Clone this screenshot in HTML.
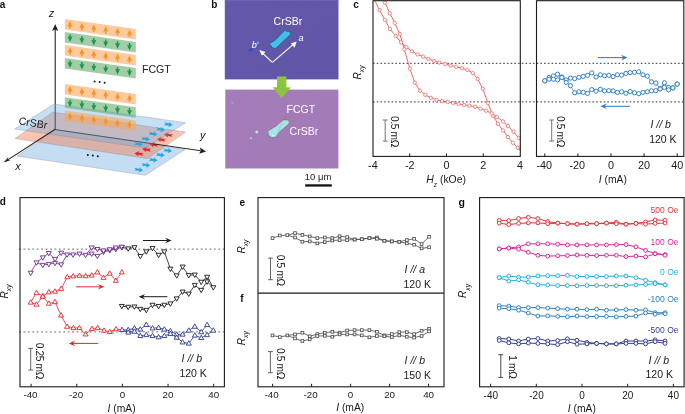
<!DOCTYPE html><html><head><meta charset="utf-8"><style>html,body{margin:0;padding:0;background:#fff;width:685px;height:414px;overflow:hidden;-webkit-font-smoothing:antialiased}svg{display:block;will-change:transform}text{font-family:"Liberation Sans",sans-serif}</style></head><body>
<svg width="685" height="414" viewBox="0 0 685 414">
<rect width="685" height="414" fill="#fff"/>
<text x="-0.3" y="8.2" font-size="10" text-anchor="start" fill="#111" font-weight="bold" font-style="normal" >a</text>
<text x="211.3" y="8.0" font-size="10" text-anchor="start" fill="#111" font-weight="bold" font-style="normal" >b</text>
<text x="353.2" y="7.6" font-size="10" text-anchor="start" fill="#111" font-weight="bold" font-style="normal" >c</text>
<text x="-0.3" y="205.3" font-size="10" text-anchor="start" fill="#111" font-weight="bold" font-style="normal" >d</text>
<text x="239.6" y="205.7" font-size="10" text-anchor="start" fill="#111" font-weight="bold" font-style="normal" >e</text>
<text x="240.3" y="302.2" font-size="10" text-anchor="start" fill="#111" font-weight="bold" font-style="normal" >f</text>
<text x="458.4" y="205.6" font-size="10.5" text-anchor="start" fill="#111" font-weight="bold" font-style="normal" >g</text>
<polygon points="56.60,129.70 185.00,149.50 145.40,175.30 17.00,156.00" fill="rgb(196,221,242)" stroke="rgba(130,130,140,0.55)" stroke-width="0.6"/>
<polygon points="172.05,151.15 167.39,153.23 168.35,151.56 163.13,151.28 164.93,150.09 163.56,148.41 168.63,149.68 168.21,147.80" fill="#27a7e2"/>
<polygon points="164.75,155.55 160.09,157.63 161.05,155.96 155.83,155.68 157.63,154.49 156.26,152.81 161.33,154.08 160.91,152.20" fill="#27a7e2"/>
<polygon points="157.55,160.55 152.89,162.63 153.85,160.96 148.63,160.68 150.43,159.49 149.06,157.81 154.13,159.08 153.71,157.20" fill="#27a7e2"/>
<polygon points="150.25,165.65 145.59,167.73 146.55,166.06 141.33,165.78 143.13,164.59 141.76,162.91 146.83,164.18 146.41,162.30" fill="#27a7e2"/>
<polygon points="143.05,170.45 138.39,172.53 139.35,170.86 134.13,170.58 135.93,169.39 134.56,167.71 139.63,168.98 139.21,167.10" fill="#27a7e2"/>
<polygon points="52.90,112.10 185.50,132.00 147.60,158.50 15.00,138.60" fill="rgba(243,118,71,0.43)" stroke="rgba(130,130,140,0.55)" stroke-width="0.6"/>
<polygon points="164.05,134.35 168.71,132.27 167.75,133.94 172.97,134.22 171.17,135.41 172.54,137.09 167.47,135.82 167.89,137.70" fill="#e8262a"/>
<polygon points="156.85,138.95 161.51,136.87 160.55,138.54 165.77,138.82 163.97,140.01 165.34,141.69 160.27,140.42 160.69,142.30" fill="#e8262a"/>
<polygon points="149.55,144.05 154.21,141.97 153.25,143.64 158.47,143.92 156.67,145.11 158.04,146.79 152.97,145.52 153.39,147.40" fill="#e8262a"/>
<polygon points="142.35,148.95 147.01,146.87 146.05,148.54 151.27,148.82 149.47,150.01 150.84,151.69 145.77,150.42 146.19,152.30" fill="#e8262a"/>
<polygon points="134.65,153.15 139.31,151.07 138.35,152.74 143.57,153.02 141.77,154.21 143.14,155.89 138.07,154.62 138.49,156.50" fill="#e8262a"/>
<line x1="55.2" y1="129.4" x2="55.2" y2="29" stroke="#222" stroke-width="1.1"/>
<path d="M55.2,24 L58.3,31 L55.2,29.6 L52.1,31 Z" fill="#222"/>
<line x1="55.2" y1="129.6" x2="200.5" y2="150.7" stroke="#2a2a2a" stroke-width="1.0"/>
<polygon points="54.00,104.00 185.50,122.70 146.00,148.00 14.50,129.00" fill="rgba(108,171,226,0.38)" stroke="rgba(130,130,140,0.55)" stroke-width="0.6"/>
<polygon points="172.75,125.05 168.09,127.13 169.05,125.46 163.83,125.18 165.63,123.99 164.26,122.31 169.33,123.58 168.91,121.70" fill="#27a7e2"/>
<polygon points="164.95,130.05 160.29,132.13 161.25,130.46 156.03,130.18 157.83,128.99 156.46,127.31 161.53,128.58 161.11,126.70" fill="#27a7e2"/>
<polygon points="157.55,134.55 152.89,136.63 153.85,134.96 148.63,134.68 150.43,133.49 149.06,131.81 154.13,133.08 153.71,131.20" fill="#27a7e2"/>
<polygon points="150.05,139.55 145.39,141.63 146.35,139.96 141.13,139.68 142.93,138.49 141.56,136.81 146.63,138.08 146.21,136.20" fill="#27a7e2"/>
<polygon points="143.05,144.65 138.39,146.73 139.35,145.06 134.13,144.78 135.93,143.59 134.56,141.91 139.63,143.18 139.21,141.30" fill="#27a7e2"/>
<circle cx="87.8" cy="155.0" r="1.0" fill="#111"/>
<circle cx="92.8" cy="155.6" r="1.0" fill="#111"/>
<circle cx="97.8" cy="156.3" r="1.0" fill="#111"/>
<g>
<polygon points="64.80,19.10 135.80,29.10 135.80,39.60 64.80,29.60" fill="rgba(250,166,92,0.6)"/>
<polygon points="64.80,32.10 135.80,42.10 135.80,52.60 64.80,42.60" fill="rgba(102,172,107,0.6)"/>
<polygon points="64.80,45.10 135.80,55.10 135.80,65.60 64.80,55.60" fill="rgba(250,166,92,0.6)"/>
<polygon points="64.80,58.00 135.80,68.00 135.80,78.50 64.80,68.50" fill="rgba(102,172,107,0.6)"/>
<polygon points="64.80,84.00 135.80,94.00 135.80,104.50 64.80,94.50" fill="rgba(250,166,92,0.6)"/>
<polygon points="64.80,97.20 135.80,107.20 135.80,117.70 64.80,107.70" fill="rgba(102,172,107,0.6)"/>
<polygon points="64.80,110.40 135.80,120.40 135.80,130.90 64.80,120.90" fill="rgba(250,166,92,0.6)"/>
</g>
<line x1="70.0" y1="25.88" x2="70.0" y2="28.58" stroke="#f7931e" stroke-width="1.5"/>
<path d="M70.0,21.08 L72.5,26.68 L70.0,26.08 L67.5,26.68 Z" fill="#f7931e"/>
<line x1="81.9" y1="27.56" x2="81.9" y2="30.26" stroke="#f7931e" stroke-width="1.5"/>
<path d="M81.9,22.76 L84.4,28.36 L81.9,27.76 L79.4,28.36 Z" fill="#f7931e"/>
<line x1="93.8" y1="29.23" x2="93.8" y2="31.93" stroke="#f7931e" stroke-width="1.5"/>
<path d="M93.8,24.43 L96.3,30.03 L93.8,29.43 L91.3,30.03 Z" fill="#f7931e"/>
<line x1="105.7" y1="30.91" x2="105.7" y2="33.61" stroke="#f7931e" stroke-width="1.5"/>
<path d="M105.7,26.11 L108.2,31.71 L105.7,31.11 L103.2,31.71 Z" fill="#f7931e"/>
<line x1="117.5" y1="32.57" x2="117.5" y2="35.27" stroke="#f7931e" stroke-width="1.5"/>
<path d="M117.5,27.77 L120.0,33.37 L117.5,32.77 L115.0,33.37 Z" fill="#f7931e"/>
<line x1="129.5" y1="34.26" x2="129.5" y2="36.96" stroke="#f7931e" stroke-width="1.5"/>
<path d="M129.5,29.46 L132.0,35.06 L129.5,34.46 L127.0,35.06 Z" fill="#f7931e"/>
<line x1="70.0" y1="37.23" x2="70.0" y2="34.53" stroke="#17984a" stroke-width="1.5"/>
<path d="M70.0,42.03 L72.5,36.43 L70.0,37.03 L67.5,36.43 Z" fill="#17984a"/>
<line x1="81.9" y1="38.91" x2="81.9" y2="36.21" stroke="#17984a" stroke-width="1.5"/>
<path d="M81.9,43.71 L84.4,38.11 L81.9,38.71 L79.4,38.11 Z" fill="#17984a"/>
<line x1="93.8" y1="40.58" x2="93.8" y2="37.88" stroke="#17984a" stroke-width="1.5"/>
<path d="M93.8,45.38 L96.3,39.78 L93.8,40.38 L91.3,39.78 Z" fill="#17984a"/>
<line x1="105.7" y1="42.26" x2="105.7" y2="39.56" stroke="#17984a" stroke-width="1.5"/>
<path d="M105.7,47.06 L108.2,41.46 L105.7,42.06 L103.2,41.46 Z" fill="#17984a"/>
<line x1="117.5" y1="43.92" x2="117.5" y2="41.22" stroke="#17984a" stroke-width="1.5"/>
<path d="M117.5,48.72 L120.0,43.12 L117.5,43.72 L115.0,43.12 Z" fill="#17984a"/>
<line x1="129.5" y1="45.61" x2="129.5" y2="42.91" stroke="#17984a" stroke-width="1.5"/>
<path d="M129.5,50.41 L132.0,44.81 L129.5,45.41 L127.0,44.81 Z" fill="#17984a"/>
<line x1="70.0" y1="51.88" x2="70.0" y2="54.58" stroke="#f7931e" stroke-width="1.5"/>
<path d="M70.0,47.08 L72.5,52.68 L70.0,52.08 L67.5,52.68 Z" fill="#f7931e"/>
<line x1="81.9" y1="53.56" x2="81.9" y2="56.26" stroke="#f7931e" stroke-width="1.5"/>
<path d="M81.9,48.76 L84.4,54.36 L81.9,53.76 L79.4,54.36 Z" fill="#f7931e"/>
<line x1="93.8" y1="55.23" x2="93.8" y2="57.93" stroke="#f7931e" stroke-width="1.5"/>
<path d="M93.8,50.43 L96.3,56.03 L93.8,55.43 L91.3,56.03 Z" fill="#f7931e"/>
<line x1="105.7" y1="56.91" x2="105.7" y2="59.61" stroke="#f7931e" stroke-width="1.5"/>
<path d="M105.7,52.11 L108.2,57.71 L105.7,57.11 L103.2,57.71 Z" fill="#f7931e"/>
<line x1="117.5" y1="58.57" x2="117.5" y2="61.27" stroke="#f7931e" stroke-width="1.5"/>
<path d="M117.5,53.77 L120.0,59.37 L117.5,58.77 L115.0,59.37 Z" fill="#f7931e"/>
<line x1="129.5" y1="60.26" x2="129.5" y2="62.96" stroke="#f7931e" stroke-width="1.5"/>
<path d="M129.5,55.46 L132.0,61.06 L129.5,60.46 L127.0,61.06 Z" fill="#f7931e"/>
<line x1="70.0" y1="63.13" x2="70.0" y2="60.43" stroke="#17984a" stroke-width="1.5"/>
<path d="M70.0,67.93 L72.5,62.33 L70.0,62.93 L67.5,62.33 Z" fill="#17984a"/>
<line x1="81.9" y1="64.81" x2="81.9" y2="62.11" stroke="#17984a" stroke-width="1.5"/>
<path d="M81.9,69.61 L84.4,64.01 L81.9,64.61 L79.4,64.01 Z" fill="#17984a"/>
<line x1="93.8" y1="66.48" x2="93.8" y2="63.78" stroke="#17984a" stroke-width="1.5"/>
<path d="M93.8,71.28 L96.3,65.68 L93.8,66.28 L91.3,65.68 Z" fill="#17984a"/>
<line x1="105.7" y1="68.16" x2="105.7" y2="65.46" stroke="#17984a" stroke-width="1.5"/>
<path d="M105.7,72.96 L108.2,67.36 L105.7,67.96 L103.2,67.36 Z" fill="#17984a"/>
<line x1="117.5" y1="69.82" x2="117.5" y2="67.12" stroke="#17984a" stroke-width="1.5"/>
<path d="M117.5,74.62 L120.0,69.02 L117.5,69.62 L115.0,69.02 Z" fill="#17984a"/>
<line x1="129.5" y1="71.51" x2="129.5" y2="68.81" stroke="#17984a" stroke-width="1.5"/>
<path d="M129.5,76.31 L132.0,70.71 L129.5,71.31 L127.0,70.71 Z" fill="#17984a"/>
<line x1="70.0" y1="90.78" x2="70.0" y2="93.48" stroke="#f7931e" stroke-width="1.5"/>
<path d="M70.0,85.98 L72.5,91.58 L70.0,90.98 L67.5,91.58 Z" fill="#f7931e"/>
<line x1="81.9" y1="92.46" x2="81.9" y2="95.16" stroke="#f7931e" stroke-width="1.5"/>
<path d="M81.9,87.66 L84.4,93.26 L81.9,92.66 L79.4,93.26 Z" fill="#f7931e"/>
<line x1="93.8" y1="94.13" x2="93.8" y2="96.83" stroke="#f7931e" stroke-width="1.5"/>
<path d="M93.8,89.33 L96.3,94.93 L93.8,94.33 L91.3,94.93 Z" fill="#f7931e"/>
<line x1="105.7" y1="95.81" x2="105.7" y2="98.51" stroke="#f7931e" stroke-width="1.5"/>
<path d="M105.7,91.01 L108.2,96.61 L105.7,96.01 L103.2,96.61 Z" fill="#f7931e"/>
<line x1="117.5" y1="97.47" x2="117.5" y2="100.17" stroke="#f7931e" stroke-width="1.5"/>
<path d="M117.5,92.67 L120.0,98.27 L117.5,97.67 L115.0,98.27 Z" fill="#f7931e"/>
<line x1="129.5" y1="99.16" x2="129.5" y2="101.86" stroke="#f7931e" stroke-width="1.5"/>
<path d="M129.5,94.36 L132.0,99.96 L129.5,99.36 L127.0,99.96 Z" fill="#f7931e"/>
<line x1="70.0" y1="102.33" x2="70.0" y2="99.63" stroke="#17984a" stroke-width="1.5"/>
<path d="M70.0,107.13 L72.5,101.53 L70.0,102.13 L67.5,101.53 Z" fill="#17984a"/>
<line x1="81.9" y1="104.01" x2="81.9" y2="101.31" stroke="#17984a" stroke-width="1.5"/>
<path d="M81.9,108.81 L84.4,103.21 L81.9,103.81 L79.4,103.21 Z" fill="#17984a"/>
<line x1="93.8" y1="105.68" x2="93.8" y2="102.98" stroke="#17984a" stroke-width="1.5"/>
<path d="M93.8,110.48 L96.3,104.88 L93.8,105.48 L91.3,104.88 Z" fill="#17984a"/>
<line x1="105.7" y1="107.36" x2="105.7" y2="104.66" stroke="#17984a" stroke-width="1.5"/>
<path d="M105.7,112.16 L108.2,106.56 L105.7,107.16 L103.2,106.56 Z" fill="#17984a"/>
<line x1="117.5" y1="109.02" x2="117.5" y2="106.32" stroke="#17984a" stroke-width="1.5"/>
<path d="M117.5,113.82 L120.0,108.22 L117.5,108.82 L115.0,108.22 Z" fill="#17984a"/>
<line x1="129.5" y1="110.71" x2="129.5" y2="108.01" stroke="#17984a" stroke-width="1.5"/>
<path d="M129.5,115.51 L132.0,109.91 L129.5,110.51 L127.0,109.91 Z" fill="#17984a"/>
<line x1="70.0" y1="117.18" x2="70.0" y2="119.88" stroke="#f7931e" stroke-width="1.5"/>
<path d="M70.0,112.38 L72.5,117.98 L70.0,117.38 L67.5,117.98 Z" fill="#f7931e"/>
<line x1="81.9" y1="118.86" x2="81.9" y2="121.56" stroke="#f7931e" stroke-width="1.5"/>
<path d="M81.9,114.06 L84.4,119.66 L81.9,119.06 L79.4,119.66 Z" fill="#f7931e"/>
<line x1="93.8" y1="120.53" x2="93.8" y2="123.23" stroke="#f7931e" stroke-width="1.5"/>
<path d="M93.8,115.73 L96.3,121.33 L93.8,120.73 L91.3,121.33 Z" fill="#f7931e"/>
<line x1="105.7" y1="122.21" x2="105.7" y2="124.91" stroke="#f7931e" stroke-width="1.5"/>
<path d="M105.7,117.41 L108.2,123.01 L105.7,122.41 L103.2,123.01 Z" fill="#f7931e"/>
<line x1="117.5" y1="123.87" x2="117.5" y2="126.57" stroke="#f7931e" stroke-width="1.5"/>
<path d="M117.5,119.07 L120.0,124.67 L117.5,124.07 L115.0,124.67 Z" fill="#f7931e"/>
<line x1="129.5" y1="125.56" x2="129.5" y2="128.26" stroke="#f7931e" stroke-width="1.5"/>
<path d="M129.5,120.76 L132.0,126.36 L129.5,125.76 L127.0,126.36 Z" fill="#f7931e"/>
<circle cx="94.6" cy="81.4" r="1.0" fill="#111"/>
<circle cx="99.6" cy="82.0" r="1.0" fill="#111"/>
<circle cx="104.6" cy="82.7" r="1.0" fill="#111"/>
<line x1="55.2" y1="129.2" x2="7.0" y2="160.4" stroke="#222" stroke-width="1.1"/>
<path d="M3.6,162.6 L8.4,156.9 L7.6,160.0 L10.6,160.3 Z" fill="#222"/>
<path d="M206.1,151.4 L199.2,153.7 L200.7,150.6 L199.9,147.6 Z" fill="#222"/>
<text x="48.8" y="16.9" font-size="11" text-anchor="start" fill="#222" font-weight="normal" font-style="italic" >z</text>
<text x="15.2" y="169.7" font-size="11" text-anchor="start" fill="#222" font-weight="normal" font-style="italic" >x</text>
<text x="200.0" y="138.6" font-size="11" text-anchor="start" fill="#222" font-weight="normal" font-style="italic" >y</text>
<text x="142.0" y="73.0" font-size="10.6" text-anchor="start" fill="#222" font-weight="normal" font-style="normal" >FCGT</text>
<text transform="translate(18.3,124.3) rotate(9)" font-size="10.6" fill="#222">CrSBr</text>
<defs><linearGradient id="gtop" x1="0" y1="0" x2="1" y2="1"><stop offset="0" stop-color="#6458aa"/><stop offset="1" stop-color="#6155a8"/></linearGradient><linearGradient id="gbot" x1="0" y1="0" x2="1" y2="1"><stop offset="0" stop-color="#a47cba"/><stop offset="1" stop-color="#a27ab8"/></linearGradient></defs>
<rect x="224.8" y="0" width="113.7" height="79.4" fill="url(#gtop)"/>
<rect x="224.8" y="0" width="113.7" height="0.8" fill="#7a70b8" opacity="0.6"/>
<rect x="225.3" y="89.6" width="113.1" height="78.9" fill="url(#gbot)"/>
<ellipse cx="232.5" cy="14" rx="1.5" ry="1" fill="#4a6ac8" opacity="0.7"/>
<ellipse cx="250.8" cy="49.8" rx="2.6" ry="1.2" fill="#2a50b8" opacity="0.85" transform="rotate(-20 250.8 49.8)"/>
<ellipse cx="257.8" cy="42.8" rx="1.6" ry="1.1" fill="#5ab4f0" opacity="0.9" transform="rotate(-40 257.8 42.8)"/>
<ellipse cx="235.5" cy="71.9" rx="1" ry="1" fill="#4a6ac8" opacity="0.6"/>
<path d="M269.4,43.6 L275.0,40.4 L284.6,30.5 L290.4,32.0 L290.4,34.6 L275.6,48.5 L272.4,47.8 Z" fill="#42bff0" stroke="#1f7068" stroke-width="0.9"/>
<g stroke="#fff" stroke-width="1.1" fill="none"><line x1="272.4" y1="62.4" x2="261.2" y2="51.8"/><line x1="272.4" y1="62.4" x2="294.8" y2="43.2"/></g>
<path d="M259.3,50.0 L265.6,52.0 L261.9,55.6 Z" fill="#fff"/>
<path d="M296.7,41.6 L294.6,47.8 L290.9,43.6 Z" fill="#fff"/>
<text x="251.8" y="47.6" font-size="9.2" text-anchor="start" fill="#fff" font-weight="normal" font-style="italic" >b</text>
<text x="298.4" y="41.0" font-size="9.2" text-anchor="start" fill="#fff" font-weight="normal" font-style="italic" >a</text>
<text x="273.6" y="24.6" font-size="10.5" text-anchor="start" fill="#fff" font-weight="normal" font-style="normal" >CrSBr</text>
<path d="M277,76.4 L286.4,76.4 L286.4,87.2 L291,87.2 L281.6,98.3 L272.7,87.2 L277,87.2 Z" fill="#8cc43e"/>
<path d="M267.6,131.2 L268.6,135.2 L271.8,137.6 L275.6,137.2 L279.6,131.8 L289.0,123.8 L289.6,121.9 L287.6,119.9 L283.8,119.8 L282.2,120.6 L276.8,125.6 L269.2,130.2 Z" fill="#a4e2ee"/>
<path d="M267.6,131.2 L268.6,135.2 L271.8,137.6 L275.6,137.2 L279.6,131.8 L289.0,123.8 L289.6,121.9 L287.6,119.9 L283.8,119.8 L282.2,120.6 L276.8,125.6 L269.2,130.2 Z" fill="none" stroke="#2f9a6a" stroke-width="0.8" stroke-dasharray="0.9 1.1"/>
<path d="M267.6,131.2 L268.6,135.2 L271.8,137.6 L275.6,137.2 L279.6,131.8 L289.0,123.8 L289.6,121.9 L287.6,119.9 L283.8,119.8 L282.2,120.6 L276.8,125.6 L269.2,130.2 Z" fill="none" stroke="#e2483a" stroke-width="0.8" stroke-dasharray="0.9 1.1" stroke-dashoffset="1"/>
<path d="M283.4,119.4 L280.6,126 L277.8,133.2" fill="none" stroke="#d8705a" stroke-width="0.6" stroke-dasharray="0.8 0.9"/>
<path d="M283.4,119.6 L285.4,116.2 L286.6,117" fill="none" stroke="#e2483a" stroke-width="0.9" stroke-dasharray="0.9 0.8"/>
<circle cx="273.2" cy="135.6" r="0.9" fill="#e8fafc"/>
<ellipse cx="256.8" cy="132" rx="1.5" ry="1.6" fill="#b8eaf8" opacity="0.95"/>
<ellipse cx="250.9" cy="138.3" rx="1.3" ry="1" fill="#90e0c0" opacity="0.9"/>
<ellipse cx="232.6" cy="103" rx="1.1" ry="1" fill="#80b8e8" opacity="0.8"/>
<ellipse cx="231.2" cy="101.4" rx="0.9" ry="0.8" fill="#90b0e0" opacity="0.5"/>
<text x="286.6" y="112.8" font-size="10.5" text-anchor="start" fill="#fff" font-weight="normal" font-style="normal" >FCGT</text>
<text x="289.6" y="134.6" font-size="10.5" text-anchor="start" fill="#fff" font-weight="normal" font-style="normal" >CrSBr</text>
<text x="304.8" y="180.2" font-size="9.5" text-anchor="start" fill="#1a1a1a" font-weight="normal" font-style="normal" >10 μm</text>
<rect x="305.2" y="184.3" width="26.6" height="2.3" fill="#111"/>
<defs><clipPath id="clipc1"><rect x="373" y="0.7" width="147.3" height="155.6"/></clipPath><clipPath id="clipc2"><rect x="536.5" y="0.7" width="147.3" height="155.6"/></clipPath></defs>
<line x1="373" y1="63.4" x2="684" y2="63.4" stroke="#5a5a5a" stroke-width="1.15" stroke-dasharray="1.6 2.12"/>
<line x1="373" y1="101.9" x2="684" y2="101.9" stroke="#5a5a5a" stroke-width="1.15" stroke-dasharray="1.6 2.12"/>
<g clip-path="url(#clipc1)">
<polyline points="372.50,-2.50 375.20,1.40 379.50,10.10 384.90,19.80 389.90,29.00 395.70,35.90 401.00,42.40 406.50,47.10 411.90,51.30 417.50,54.40 423.00,56.60 428.40,58.90 433.90,61.00 439.30,62.50 445.20,64.00 450.70,65.70 456.10,66.70 461.90,68.20 467.30,69.90 472.70,73.10 477.70,79.00 482.80,88.80 487.90,103.10 492.90,115.70 498.00,123.90 503.00,130.40 508.00,137.00 512.80,142.80 517.80,147.80 521.00,151.00" fill="none" stroke="#e8413f" stroke-width="0.8" stroke-linejoin="round" />
<polyline points="382.50,-3.00 384.90,2.60 389.90,13.30 394.70,22.90 399.80,34.00 404.30,49.30 409.90,68.70 414.80,82.60 420.00,90.70 425.40,94.90 430.80,97.80 436.40,100.00 442.00,101.10 447.70,102.00 453.30,103.00 458.50,103.90 464.20,105.00 469.30,105.70 475.20,106.70 480.60,108.70 486.20,110.70 491.60,113.30 496.80,117.00 503.00,121.40 508.00,126.10 513.50,131.60 518.60,138.00 521.00,141.00" fill="none" stroke="#e8413f" stroke-width="0.8" stroke-linejoin="round" />
<circle cx="379.50" cy="10.10" r="1.7" fill="#fff" stroke="#ef5a5a" stroke-width="0.7"/>
<circle cx="384.90" cy="19.80" r="1.7" fill="#fff" stroke="#ef5a5a" stroke-width="0.7"/>
<circle cx="389.90" cy="29.00" r="1.7" fill="#fff" stroke="#ef5a5a" stroke-width="0.7"/>
<circle cx="395.70" cy="35.90" r="1.7" fill="#fff" stroke="#ef5a5a" stroke-width="0.7"/>
<circle cx="401.00" cy="42.40" r="1.7" fill="#fff" stroke="#ef5a5a" stroke-width="0.7"/>
<circle cx="406.50" cy="47.10" r="1.7" fill="#fff" stroke="#ef5a5a" stroke-width="0.7"/>
<circle cx="411.90" cy="51.30" r="1.7" fill="#fff" stroke="#ef5a5a" stroke-width="0.7"/>
<circle cx="417.50" cy="54.40" r="1.7" fill="#fff" stroke="#ef5a5a" stroke-width="0.7"/>
<circle cx="423.00" cy="56.60" r="1.7" fill="#fff" stroke="#ef5a5a" stroke-width="0.7"/>
<circle cx="428.40" cy="58.90" r="1.7" fill="#fff" stroke="#ef5a5a" stroke-width="0.7"/>
<circle cx="433.90" cy="61.00" r="1.7" fill="#fff" stroke="#ef5a5a" stroke-width="0.7"/>
<circle cx="439.30" cy="62.50" r="1.7" fill="#fff" stroke="#ef5a5a" stroke-width="0.7"/>
<circle cx="445.20" cy="64.00" r="1.7" fill="#fff" stroke="#ef5a5a" stroke-width="0.7"/>
<circle cx="450.70" cy="65.70" r="1.7" fill="#fff" stroke="#ef5a5a" stroke-width="0.7"/>
<circle cx="456.10" cy="66.70" r="1.7" fill="#fff" stroke="#ef5a5a" stroke-width="0.7"/>
<circle cx="461.90" cy="68.20" r="1.7" fill="#fff" stroke="#ef5a5a" stroke-width="0.7"/>
<circle cx="467.30" cy="69.90" r="1.7" fill="#fff" stroke="#ef5a5a" stroke-width="0.7"/>
<circle cx="472.70" cy="73.10" r="1.7" fill="#fff" stroke="#ef5a5a" stroke-width="0.7"/>
<circle cx="477.70" cy="79.00" r="1.7" fill="#fff" stroke="#ef5a5a" stroke-width="0.7"/>
<circle cx="482.80" cy="88.80" r="1.7" fill="#fff" stroke="#ef5a5a" stroke-width="0.7"/>
<circle cx="487.90" cy="103.10" r="1.7" fill="#fff" stroke="#ef5a5a" stroke-width="0.7"/>
<circle cx="492.90" cy="115.70" r="1.7" fill="#fff" stroke="#ef5a5a" stroke-width="0.7"/>
<circle cx="498.00" cy="123.90" r="1.7" fill="#fff" stroke="#ef5a5a" stroke-width="0.7"/>
<circle cx="503.00" cy="130.40" r="1.7" fill="#fff" stroke="#ef5a5a" stroke-width="0.7"/>
<circle cx="508.00" cy="137.00" r="1.7" fill="#fff" stroke="#ef5a5a" stroke-width="0.7"/>
<circle cx="512.80" cy="142.80" r="1.7" fill="#fff" stroke="#ef5a5a" stroke-width="0.7"/>
<circle cx="517.80" cy="147.80" r="1.7" fill="#fff" stroke="#ef5a5a" stroke-width="0.7"/>
<circle cx="384.90" cy="2.60" r="1.7" fill="#fff" stroke="#ef5a5a" stroke-width="0.7"/>
<circle cx="389.90" cy="13.30" r="1.7" fill="#fff" stroke="#ef5a5a" stroke-width="0.7"/>
<circle cx="394.70" cy="22.90" r="1.7" fill="#fff" stroke="#ef5a5a" stroke-width="0.7"/>
<circle cx="399.80" cy="34.00" r="1.7" fill="#fff" stroke="#ef5a5a" stroke-width="0.7"/>
<circle cx="404.30" cy="49.30" r="1.7" fill="#fff" stroke="#ef5a5a" stroke-width="0.7"/>
<circle cx="409.90" cy="68.70" r="1.7" fill="#fff" stroke="#ef5a5a" stroke-width="0.7"/>
<circle cx="414.80" cy="82.60" r="1.7" fill="#fff" stroke="#ef5a5a" stroke-width="0.7"/>
<circle cx="420.00" cy="90.70" r="1.7" fill="#fff" stroke="#ef5a5a" stroke-width="0.7"/>
<circle cx="425.40" cy="94.90" r="1.7" fill="#fff" stroke="#ef5a5a" stroke-width="0.7"/>
<circle cx="430.80" cy="97.80" r="1.7" fill="#fff" stroke="#ef5a5a" stroke-width="0.7"/>
<circle cx="436.40" cy="100.00" r="1.7" fill="#fff" stroke="#ef5a5a" stroke-width="0.7"/>
<circle cx="442.00" cy="101.10" r="1.7" fill="#fff" stroke="#ef5a5a" stroke-width="0.7"/>
<circle cx="447.70" cy="102.00" r="1.7" fill="#fff" stroke="#ef5a5a" stroke-width="0.7"/>
<circle cx="453.30" cy="103.00" r="1.7" fill="#fff" stroke="#ef5a5a" stroke-width="0.7"/>
<circle cx="458.50" cy="103.90" r="1.7" fill="#fff" stroke="#ef5a5a" stroke-width="0.7"/>
<circle cx="464.20" cy="105.00" r="1.7" fill="#fff" stroke="#ef5a5a" stroke-width="0.7"/>
<circle cx="469.30" cy="105.70" r="1.7" fill="#fff" stroke="#ef5a5a" stroke-width="0.7"/>
<circle cx="475.20" cy="106.70" r="1.7" fill="#fff" stroke="#ef5a5a" stroke-width="0.7"/>
<circle cx="480.60" cy="108.70" r="1.7" fill="#fff" stroke="#ef5a5a" stroke-width="0.7"/>
<circle cx="486.20" cy="110.70" r="1.7" fill="#fff" stroke="#ef5a5a" stroke-width="0.7"/>
<circle cx="491.60" cy="113.30" r="1.7" fill="#fff" stroke="#ef5a5a" stroke-width="0.7"/>
<circle cx="496.80" cy="117.00" r="1.7" fill="#fff" stroke="#ef5a5a" stroke-width="0.7"/>
<circle cx="503.00" cy="121.40" r="1.7" fill="#fff" stroke="#ef5a5a" stroke-width="0.7"/>
<circle cx="508.00" cy="126.10" r="1.7" fill="#fff" stroke="#ef5a5a" stroke-width="0.7"/>
<circle cx="513.50" cy="131.60" r="1.7" fill="#fff" stroke="#ef5a5a" stroke-width="0.7"/>
<circle cx="518.60" cy="138.00" r="1.7" fill="#fff" stroke="#ef5a5a" stroke-width="0.7"/>
</g>
<rect x="373" y="0.7" width="147.29999999999995" height="155.70000000000002" fill="none" stroke="#1a1a1a" stroke-width="1.1"/>
<line x1="409.70" y1="156.4" x2="409.70" y2="153.4" stroke="#1a1a1a" stroke-width="1"/>
<line x1="446.50" y1="156.4" x2="446.50" y2="153.4" stroke="#1a1a1a" stroke-width="1"/>
<line x1="483.30" y1="156.4" x2="483.30" y2="153.4" stroke="#1a1a1a" stroke-width="1"/>
<text x="372.90" y="168.8" font-size="10.8" text-anchor="middle" fill="#1a1a1a" font-weight="normal" font-style="normal" >-4</text>
<text x="409.70" y="168.8" font-size="10.8" text-anchor="middle" fill="#1a1a1a" font-weight="normal" font-style="normal" >-2</text>
<text x="446.50" y="168.8" font-size="10.8" text-anchor="middle" fill="#1a1a1a" font-weight="normal" font-style="normal" >0</text>
<text x="483.30" y="168.8" font-size="10.8" text-anchor="middle" fill="#1a1a1a" font-weight="normal" font-style="normal" >2</text>
<text x="520.10" y="168.8" font-size="10.8" text-anchor="middle" fill="#1a1a1a" font-weight="normal" font-style="normal" >4</text>
<text x="426.3" y="183.3" font-size="10.4" fill="#1a1a1a"><tspan font-style="italic">H</tspan><tspan font-size="6.5" font-style="italic" dy="3.6">z</tspan><tspan dy="-3.6"> (kOe)</tspan></text>
<text transform="translate(360.6,79.4) rotate(-90)" font-size="10" font-style="italic" fill="#1a1a1a">R<tspan font-size="6.8" dy="3.3">xy</tspan></text>
<line x1="385.2" y1="120.0" x2="385.2" y2="141.1" stroke="#666" stroke-width="0.9"/>
<line x1="382.8" y1="120.0" x2="387.59999999999997" y2="120.0" stroke="#666" stroke-width="0.9"/>
<line x1="382.8" y1="141.1" x2="387.59999999999997" y2="141.1" stroke="#666" stroke-width="0.9"/>
<text transform="translate(390.6,116.0) rotate(90)" font-size="10.2" letter-spacing="-0.35" fill="#1a1a1a">0.5 mΩ</text>
<polyline points="544.80,80.80 549.07,77.50 553.34,75.90 557.61,74.20 561.88,77.00 566.15,80.00 570.42,78.10 574.69,78.60 578.96,77.30 583.23,76.40 587.50,75.30 591.77,72.90 596.04,77.00 600.31,74.80 604.58,75.70 608.85,75.30 613.12,76.60 617.39,74.80 621.66,75.10 625.93,73.40 630.20,72.60 634.47,72.30 638.74,71.80 643.01,74.80 647.28,76.10 651.55,81.90 655.82,83.00 660.09,88.70 664.36,82.80 668.63,87.40 672.90,87.90 677.17,84.10" fill="none" stroke="#2b7bc0" stroke-width="0.7" stroke-linejoin="round" />
<polyline points="544.80,80.80 549.07,79.20 553.34,79.20 557.61,79.90 561.88,77.50 566.15,82.40 570.42,85.70 574.69,92.80 578.96,91.80 583.23,92.30 587.50,93.40 591.77,89.60 596.04,91.20 600.31,89.30 604.58,90.90 608.85,90.70 613.12,90.90 617.39,92.40 621.66,91.80 625.93,93.20 630.20,91.50 634.47,92.80 638.74,93.70 643.01,92.30 647.28,91.80 651.55,90.90 655.82,90.70 660.09,89.00 664.36,87.40 668.63,89.80 672.90,87.90 677.17,84.10" fill="none" stroke="#2b7bc0" stroke-width="0.7" stroke-linejoin="round" />
<circle cx="544.80" cy="80.80" r="2.1" fill="#fff" stroke="#2b7bc0" stroke-width="0.95"/>
<circle cx="549.07" cy="77.50" r="2.1" fill="#fff" stroke="#2b7bc0" stroke-width="0.95"/>
<circle cx="553.34" cy="75.90" r="2.1" fill="#fff" stroke="#2b7bc0" stroke-width="0.95"/>
<circle cx="557.61" cy="74.20" r="2.1" fill="#fff" stroke="#2b7bc0" stroke-width="0.95"/>
<circle cx="561.88" cy="77.00" r="2.1" fill="#fff" stroke="#2b7bc0" stroke-width="0.95"/>
<circle cx="566.15" cy="80.00" r="2.1" fill="#fff" stroke="#2b7bc0" stroke-width="0.95"/>
<circle cx="570.42" cy="78.10" r="2.1" fill="#fff" stroke="#2b7bc0" stroke-width="0.95"/>
<circle cx="574.69" cy="78.60" r="2.1" fill="#fff" stroke="#2b7bc0" stroke-width="0.95"/>
<circle cx="578.96" cy="77.30" r="2.1" fill="#fff" stroke="#2b7bc0" stroke-width="0.95"/>
<circle cx="583.23" cy="76.40" r="2.1" fill="#fff" stroke="#2b7bc0" stroke-width="0.95"/>
<circle cx="587.50" cy="75.30" r="2.1" fill="#fff" stroke="#2b7bc0" stroke-width="0.95"/>
<circle cx="591.77" cy="72.90" r="2.1" fill="#fff" stroke="#2b7bc0" stroke-width="0.95"/>
<circle cx="596.04" cy="77.00" r="2.1" fill="#fff" stroke="#2b7bc0" stroke-width="0.95"/>
<circle cx="600.31" cy="74.80" r="2.1" fill="#fff" stroke="#2b7bc0" stroke-width="0.95"/>
<circle cx="604.58" cy="75.70" r="2.1" fill="#fff" stroke="#2b7bc0" stroke-width="0.95"/>
<circle cx="608.85" cy="75.30" r="2.1" fill="#fff" stroke="#2b7bc0" stroke-width="0.95"/>
<circle cx="613.12" cy="76.60" r="2.1" fill="#fff" stroke="#2b7bc0" stroke-width="0.95"/>
<circle cx="617.39" cy="74.80" r="2.1" fill="#fff" stroke="#2b7bc0" stroke-width="0.95"/>
<circle cx="621.66" cy="75.10" r="2.1" fill="#fff" stroke="#2b7bc0" stroke-width="0.95"/>
<circle cx="625.93" cy="73.40" r="2.1" fill="#fff" stroke="#2b7bc0" stroke-width="0.95"/>
<circle cx="630.20" cy="72.60" r="2.1" fill="#fff" stroke="#2b7bc0" stroke-width="0.95"/>
<circle cx="634.47" cy="72.30" r="2.1" fill="#fff" stroke="#2b7bc0" stroke-width="0.95"/>
<circle cx="638.74" cy="71.80" r="2.1" fill="#fff" stroke="#2b7bc0" stroke-width="0.95"/>
<circle cx="643.01" cy="74.80" r="2.1" fill="#fff" stroke="#2b7bc0" stroke-width="0.95"/>
<circle cx="647.28" cy="76.10" r="2.1" fill="#fff" stroke="#2b7bc0" stroke-width="0.95"/>
<circle cx="651.55" cy="81.90" r="2.1" fill="#fff" stroke="#2b7bc0" stroke-width="0.95"/>
<circle cx="655.82" cy="83.00" r="2.1" fill="#fff" stroke="#2b7bc0" stroke-width="0.95"/>
<circle cx="660.09" cy="88.70" r="2.1" fill="#fff" stroke="#2b7bc0" stroke-width="0.95"/>
<circle cx="664.36" cy="82.80" r="2.1" fill="#fff" stroke="#2b7bc0" stroke-width="0.95"/>
<circle cx="668.63" cy="87.40" r="2.1" fill="#fff" stroke="#2b7bc0" stroke-width="0.95"/>
<circle cx="672.90" cy="87.90" r="2.1" fill="#fff" stroke="#2b7bc0" stroke-width="0.95"/>
<circle cx="677.17" cy="84.10" r="2.1" fill="#fff" stroke="#2b7bc0" stroke-width="0.95"/>
<circle cx="544.80" cy="80.80" r="2.1" fill="#fff" stroke="#2b7bc0" stroke-width="0.95"/>
<circle cx="549.07" cy="79.20" r="2.1" fill="#fff" stroke="#2b7bc0" stroke-width="0.95"/>
<circle cx="553.34" cy="79.20" r="2.1" fill="#fff" stroke="#2b7bc0" stroke-width="0.95"/>
<circle cx="557.61" cy="79.90" r="2.1" fill="#fff" stroke="#2b7bc0" stroke-width="0.95"/>
<circle cx="561.88" cy="77.50" r="2.1" fill="#fff" stroke="#2b7bc0" stroke-width="0.95"/>
<circle cx="566.15" cy="82.40" r="2.1" fill="#fff" stroke="#2b7bc0" stroke-width="0.95"/>
<circle cx="570.42" cy="85.70" r="2.1" fill="#fff" stroke="#2b7bc0" stroke-width="0.95"/>
<circle cx="574.69" cy="92.80" r="2.1" fill="#fff" stroke="#2b7bc0" stroke-width="0.95"/>
<circle cx="578.96" cy="91.80" r="2.1" fill="#fff" stroke="#2b7bc0" stroke-width="0.95"/>
<circle cx="583.23" cy="92.30" r="2.1" fill="#fff" stroke="#2b7bc0" stroke-width="0.95"/>
<circle cx="587.50" cy="93.40" r="2.1" fill="#fff" stroke="#2b7bc0" stroke-width="0.95"/>
<circle cx="591.77" cy="89.60" r="2.1" fill="#fff" stroke="#2b7bc0" stroke-width="0.95"/>
<circle cx="596.04" cy="91.20" r="2.1" fill="#fff" stroke="#2b7bc0" stroke-width="0.95"/>
<circle cx="600.31" cy="89.30" r="2.1" fill="#fff" stroke="#2b7bc0" stroke-width="0.95"/>
<circle cx="604.58" cy="90.90" r="2.1" fill="#fff" stroke="#2b7bc0" stroke-width="0.95"/>
<circle cx="608.85" cy="90.70" r="2.1" fill="#fff" stroke="#2b7bc0" stroke-width="0.95"/>
<circle cx="613.12" cy="90.90" r="2.1" fill="#fff" stroke="#2b7bc0" stroke-width="0.95"/>
<circle cx="617.39" cy="92.40" r="2.1" fill="#fff" stroke="#2b7bc0" stroke-width="0.95"/>
<circle cx="621.66" cy="91.80" r="2.1" fill="#fff" stroke="#2b7bc0" stroke-width="0.95"/>
<circle cx="625.93" cy="93.20" r="2.1" fill="#fff" stroke="#2b7bc0" stroke-width="0.95"/>
<circle cx="630.20" cy="91.50" r="2.1" fill="#fff" stroke="#2b7bc0" stroke-width="0.95"/>
<circle cx="634.47" cy="92.80" r="2.1" fill="#fff" stroke="#2b7bc0" stroke-width="0.95"/>
<circle cx="638.74" cy="93.70" r="2.1" fill="#fff" stroke="#2b7bc0" stroke-width="0.95"/>
<circle cx="643.01" cy="92.30" r="2.1" fill="#fff" stroke="#2b7bc0" stroke-width="0.95"/>
<circle cx="647.28" cy="91.80" r="2.1" fill="#fff" stroke="#2b7bc0" stroke-width="0.95"/>
<circle cx="651.55" cy="90.90" r="2.1" fill="#fff" stroke="#2b7bc0" stroke-width="0.95"/>
<circle cx="655.82" cy="90.70" r="2.1" fill="#fff" stroke="#2b7bc0" stroke-width="0.95"/>
<circle cx="660.09" cy="89.00" r="2.1" fill="#fff" stroke="#2b7bc0" stroke-width="0.95"/>
<circle cx="664.36" cy="87.40" r="2.1" fill="#fff" stroke="#2b7bc0" stroke-width="0.95"/>
<circle cx="668.63" cy="89.80" r="2.1" fill="#fff" stroke="#2b7bc0" stroke-width="0.95"/>
<circle cx="672.90" cy="87.90" r="2.1" fill="#fff" stroke="#2b7bc0" stroke-width="0.95"/>
<circle cx="677.17" cy="84.10" r="2.1" fill="#fff" stroke="#2b7bc0" stroke-width="0.95"/>
<rect x="536.5" y="0.7" width="147.29999999999995" height="155.70000000000002" fill="none" stroke="#1a1a1a" stroke-width="1.1"/>
<line x1="544.80" y1="156.4" x2="544.80" y2="153.4" stroke="#1a1a1a" stroke-width="1"/>
<line x1="577.90" y1="156.4" x2="577.90" y2="153.4" stroke="#1a1a1a" stroke-width="1"/>
<line x1="611.00" y1="156.4" x2="611.00" y2="153.4" stroke="#1a1a1a" stroke-width="1"/>
<line x1="644.10" y1="156.4" x2="644.10" y2="153.4" stroke="#1a1a1a" stroke-width="1"/>
<line x1="677.20" y1="156.4" x2="677.20" y2="153.4" stroke="#1a1a1a" stroke-width="1"/>
<text x="544.20" y="168.8" font-size="10.8" text-anchor="middle" fill="#1a1a1a" font-weight="normal" font-style="normal" >-40</text>
<text x="577.30" y="168.8" font-size="10.8" text-anchor="middle" fill="#1a1a1a" font-weight="normal" font-style="normal" >-20</text>
<text x="611.00" y="168.8" font-size="10.8" text-anchor="middle" fill="#1a1a1a" font-weight="normal" font-style="normal" >0</text>
<text x="644.10" y="168.8" font-size="10.8" text-anchor="middle" fill="#1a1a1a" font-weight="normal" font-style="normal" >20</text>
<text x="677.20" y="168.8" font-size="10.8" text-anchor="middle" fill="#1a1a1a" font-weight="normal" font-style="normal" >40</text>
<text x="598.8" y="183.4" font-size="10.3" fill="#1a1a1a"><tspan font-style="italic">I</tspan> (mA)</text>
<line x1="551.7" y1="120.0" x2="551.7" y2="141.1" stroke="#666" stroke-width="0.9"/>
<line x1="549.3000000000001" y1="120.0" x2="554.1" y2="120.0" stroke="#666" stroke-width="0.9"/>
<line x1="549.3000000000001" y1="141.1" x2="554.1" y2="141.1" stroke="#666" stroke-width="0.9"/>
<text transform="translate(557.3,116.0) rotate(90)" font-size="10.2" letter-spacing="-0.35" fill="#1a1a1a">0.5 mΩ</text>
<line x1="597.9" y1="57.6" x2="623.56" y2="57.6" stroke="#2b7bc0" stroke-width="1.0"/>
<path d="M627.4,57.6 L621.0,54.800000000000004 L623.24,57.6 L621.0,60.4 Z" fill="#2b7bc0"/>
<line x1="630.0" y1="106.3" x2="604.24" y2="106.3" stroke="#2b7bc0" stroke-width="1.0"/>
<path d="M600.4,106.3 L606.8,103.5 L604.56,106.3 L606.8,109.1 Z" fill="#2b7bc0"/>
<text x="650.5" y="127.8" font-size="10.5" font-style="italic" fill="#1a1a1a">I // b</text>
<text x="649.2" y="143.3" font-size="10.5" text-anchor="start" fill="#1a1a1a" font-weight="normal" font-style="normal" >120 K</text>
<line x1="19.0" y1="249.2" x2="224.3" y2="249.2" stroke="#888" stroke-width="1.3" stroke-dasharray="1.8 2.63"/>
<line x1="19.0" y1="331.8" x2="224.3" y2="331.8" stroke="#888" stroke-width="1.3" stroke-dasharray="1.8 2.63"/>
<polyline points="30.70,273.00 36.50,262.60 42.80,257.60 48.80,253.20 55.00,259.10 61.20,252.90 67.10,254.70 73.10,254.70 79.50,253.80 85.60,255.00 91.70,253.80 97.40,256.10 103.50,252.00 109.70,250.40 115.80,249.20 121.90,247.40" fill="none" stroke="#70288c" stroke-width="0.8" stroke-linejoin="round" />
<polyline points="36.50,262.60 42.80,265.10 48.80,264.20 55.00,263.10 61.20,264.60 67.10,254.70" fill="none" stroke="#70288c" stroke-width="0.8" stroke-linejoin="round" />
<polyline points="85.60,255.00 91.70,247.70 97.40,249.20 103.50,250.70 109.70,249.50 115.80,247.70 121.90,246.90" fill="none" stroke="#70288c" stroke-width="0.8" stroke-linejoin="round" />
<polygon points="30.70,275.61 28.20,271.26 33.20,271.26" fill="#fff" stroke="#70288c" stroke-width="0.9" stroke-linejoin="miter"/>
<polygon points="36.50,265.21 34.00,260.86 39.00,260.86" fill="#fff" stroke="#70288c" stroke-width="0.9" stroke-linejoin="miter"/>
<polygon points="42.80,260.21 40.30,255.86 45.30,255.86" fill="#fff" stroke="#70288c" stroke-width="0.9" stroke-linejoin="miter"/>
<polygon points="48.80,255.81 46.30,251.46 51.30,251.46" fill="#fff" stroke="#70288c" stroke-width="0.9" stroke-linejoin="miter"/>
<polygon points="55.00,261.71 52.50,257.36 57.50,257.36" fill="#fff" stroke="#70288c" stroke-width="0.9" stroke-linejoin="miter"/>
<polygon points="61.20,255.51 58.70,251.16 63.70,251.16" fill="#fff" stroke="#70288c" stroke-width="0.9" stroke-linejoin="miter"/>
<polygon points="67.10,257.31 64.60,252.96 69.60,252.96" fill="#fff" stroke="#70288c" stroke-width="0.9" stroke-linejoin="miter"/>
<polygon points="73.10,257.31 70.60,252.96 75.60,252.96" fill="#fff" stroke="#70288c" stroke-width="0.9" stroke-linejoin="miter"/>
<polygon points="79.50,256.41 77.00,252.06 82.00,252.06" fill="#fff" stroke="#70288c" stroke-width="0.9" stroke-linejoin="miter"/>
<polygon points="85.60,257.61 83.10,253.26 88.10,253.26" fill="#fff" stroke="#70288c" stroke-width="0.9" stroke-linejoin="miter"/>
<polygon points="91.70,256.41 89.20,252.06 94.20,252.06" fill="#fff" stroke="#70288c" stroke-width="0.9" stroke-linejoin="miter"/>
<polygon points="97.40,258.71 94.90,254.36 99.90,254.36" fill="#fff" stroke="#70288c" stroke-width="0.9" stroke-linejoin="miter"/>
<polygon points="103.50,254.61 101.00,250.26 106.00,250.26" fill="#fff" stroke="#70288c" stroke-width="0.9" stroke-linejoin="miter"/>
<polygon points="109.70,253.01 107.20,248.66 112.20,248.66" fill="#fff" stroke="#70288c" stroke-width="0.9" stroke-linejoin="miter"/>
<polygon points="115.80,251.81 113.30,247.46 118.30,247.46" fill="#fff" stroke="#70288c" stroke-width="0.9" stroke-linejoin="miter"/>
<polygon points="121.90,250.01 119.40,245.66 124.40,245.66" fill="#fff" stroke="#70288c" stroke-width="0.9" stroke-linejoin="miter"/>
<polygon points="42.80,267.71 40.30,263.36 45.30,263.36" fill="#fff" stroke="#70288c" stroke-width="0.9" stroke-linejoin="miter"/>
<polygon points="48.80,266.81 46.30,262.46 51.30,262.46" fill="#fff" stroke="#70288c" stroke-width="0.9" stroke-linejoin="miter"/>
<polygon points="55.00,265.71 52.50,261.36 57.50,261.36" fill="#fff" stroke="#70288c" stroke-width="0.9" stroke-linejoin="miter"/>
<polygon points="61.20,267.21 58.70,262.86 63.70,262.86" fill="#fff" stroke="#70288c" stroke-width="0.9" stroke-linejoin="miter"/>
<polygon points="91.70,250.31 89.20,245.96 94.20,245.96" fill="#fff" stroke="#70288c" stroke-width="0.9" stroke-linejoin="miter"/>
<polygon points="97.40,251.81 94.90,247.46 99.90,247.46" fill="#fff" stroke="#70288c" stroke-width="0.9" stroke-linejoin="miter"/>
<polygon points="103.50,253.31 101.00,248.96 106.00,248.96" fill="#fff" stroke="#70288c" stroke-width="0.9" stroke-linejoin="miter"/>
<polygon points="109.70,252.11 107.20,247.76 112.20,247.76" fill="#fff" stroke="#70288c" stroke-width="0.9" stroke-linejoin="miter"/>
<polygon points="115.80,250.31 113.30,245.96 118.30,245.96" fill="#fff" stroke="#70288c" stroke-width="0.9" stroke-linejoin="miter"/>
<polygon points="121.90,249.51 119.40,245.16 124.40,245.16" fill="#fff" stroke="#70288c" stroke-width="0.9" stroke-linejoin="miter"/>
<polyline points="30.70,302.40 36.50,292.90 42.80,296.10 48.80,292.10 55.00,291.40 61.20,288.70 67.30,277.00 73.20,276.10 79.50,275.60 85.60,276.00 91.70,275.30 97.40,272.20 103.50,277.60 109.70,273.40 115.80,280.60 121.90,272.20" fill="none" stroke="#e8262a" stroke-width="0.8" stroke-linejoin="round" />
<polyline points="30.70,302.40 36.50,304.40 42.80,296.50 48.80,303.50 55.00,301.90 61.10,315.30 67.10,326.60 73.40,327.90 79.30,327.90 85.60,334.20 91.90,328.70 97.70,327.90 104.00,330.50 109.80,331.80 116.10,329.00 122.00,329.90" fill="none" stroke="#e8262a" stroke-width="0.8" stroke-linejoin="round" />
<polygon points="30.70,299.79 28.20,304.14 33.20,304.14" fill="#fff" stroke="#e8262a" stroke-width="0.9" stroke-linejoin="miter"/>
<polygon points="36.50,290.29 34.00,294.64 39.00,294.64" fill="#fff" stroke="#e8262a" stroke-width="0.9" stroke-linejoin="miter"/>
<polygon points="42.80,293.49 40.30,297.84 45.30,297.84" fill="#fff" stroke="#e8262a" stroke-width="0.9" stroke-linejoin="miter"/>
<polygon points="48.80,289.49 46.30,293.84 51.30,293.84" fill="#fff" stroke="#e8262a" stroke-width="0.9" stroke-linejoin="miter"/>
<polygon points="55.00,288.79 52.50,293.14 57.50,293.14" fill="#fff" stroke="#e8262a" stroke-width="0.9" stroke-linejoin="miter"/>
<polygon points="61.20,286.09 58.70,290.44 63.70,290.44" fill="#fff" stroke="#e8262a" stroke-width="0.9" stroke-linejoin="miter"/>
<polygon points="67.30,274.39 64.80,278.74 69.80,278.74" fill="#fff" stroke="#e8262a" stroke-width="0.9" stroke-linejoin="miter"/>
<polygon points="73.20,273.49 70.70,277.84 75.70,277.84" fill="#fff" stroke="#e8262a" stroke-width="0.9" stroke-linejoin="miter"/>
<polygon points="79.50,272.99 77.00,277.34 82.00,277.34" fill="#fff" stroke="#e8262a" stroke-width="0.9" stroke-linejoin="miter"/>
<polygon points="85.60,273.39 83.10,277.74 88.10,277.74" fill="#fff" stroke="#e8262a" stroke-width="0.9" stroke-linejoin="miter"/>
<polygon points="91.70,272.69 89.20,277.04 94.20,277.04" fill="#fff" stroke="#e8262a" stroke-width="0.9" stroke-linejoin="miter"/>
<polygon points="97.40,269.59 94.90,273.94 99.90,273.94" fill="#fff" stroke="#e8262a" stroke-width="0.9" stroke-linejoin="miter"/>
<polygon points="103.50,274.99 101.00,279.34 106.00,279.34" fill="#fff" stroke="#e8262a" stroke-width="0.9" stroke-linejoin="miter"/>
<polygon points="109.70,270.79 107.20,275.14 112.20,275.14" fill="#fff" stroke="#e8262a" stroke-width="0.9" stroke-linejoin="miter"/>
<polygon points="115.80,277.99 113.30,282.34 118.30,282.34" fill="#fff" stroke="#e8262a" stroke-width="0.9" stroke-linejoin="miter"/>
<polygon points="121.90,269.59 119.40,273.94 124.40,273.94" fill="#fff" stroke="#e8262a" stroke-width="0.9" stroke-linejoin="miter"/>
<polygon points="36.50,301.79 34.00,306.14 39.00,306.14" fill="#fff" stroke="#e8262a" stroke-width="0.9" stroke-linejoin="miter"/>
<polygon points="42.80,293.89 40.30,298.24 45.30,298.24" fill="#fff" stroke="#e8262a" stroke-width="0.9" stroke-linejoin="miter"/>
<polygon points="48.80,300.89 46.30,305.24 51.30,305.24" fill="#fff" stroke="#e8262a" stroke-width="0.9" stroke-linejoin="miter"/>
<polygon points="55.00,299.29 52.50,303.64 57.50,303.64" fill="#fff" stroke="#e8262a" stroke-width="0.9" stroke-linejoin="miter"/>
<polygon points="61.10,312.69 58.60,317.04 63.60,317.04" fill="#fff" stroke="#e8262a" stroke-width="0.9" stroke-linejoin="miter"/>
<polygon points="67.10,323.99 64.60,328.34 69.60,328.34" fill="#fff" stroke="#e8262a" stroke-width="0.9" stroke-linejoin="miter"/>
<polygon points="73.40,325.29 70.90,329.64 75.90,329.64" fill="#fff" stroke="#e8262a" stroke-width="0.9" stroke-linejoin="miter"/>
<polygon points="79.30,325.29 76.80,329.64 81.80,329.64" fill="#fff" stroke="#e8262a" stroke-width="0.9" stroke-linejoin="miter"/>
<polygon points="85.60,331.59 83.10,335.94 88.10,335.94" fill="#fff" stroke="#e8262a" stroke-width="0.9" stroke-linejoin="miter"/>
<polygon points="91.90,326.09 89.40,330.44 94.40,330.44" fill="#fff" stroke="#e8262a" stroke-width="0.9" stroke-linejoin="miter"/>
<polygon points="97.70,325.29 95.20,329.64 100.20,329.64" fill="#fff" stroke="#e8262a" stroke-width="0.9" stroke-linejoin="miter"/>
<polygon points="104.00,327.89 101.50,332.24 106.50,332.24" fill="#fff" stroke="#e8262a" stroke-width="0.9" stroke-linejoin="miter"/>
<polygon points="109.80,329.19 107.30,333.54 112.30,333.54" fill="#fff" stroke="#e8262a" stroke-width="0.9" stroke-linejoin="miter"/>
<polygon points="116.10,326.39 113.60,330.74 118.60,330.74" fill="#fff" stroke="#e8262a" stroke-width="0.9" stroke-linejoin="miter"/>
<polyline points="121.90,247.40 128.20,248.60 134.40,247.40 140.30,256.20 146.30,251.60 152.50,248.20 158.60,255.00 164.30,251.60 170.40,268.90 176.70,275.60 182.60,266.80 188.80,275.30 194.80,274.80 201.20,282.00 207.10,277.00 213.30,287.50" fill="none" stroke="#1a1a1a" stroke-width="0.8" stroke-linejoin="round" />
<polyline points="213.30,287.50 207.10,281.70 201.20,290.10 194.80,285.10 188.80,293.90 182.60,291.80 176.70,298.60 170.40,303.70 164.30,305.00 158.60,306.20 152.50,305.00 146.30,310.10 140.30,309.10 134.40,306.70 128.20,307.00 121.80,306.20" fill="none" stroke="#1a1a1a" stroke-width="0.8" stroke-linejoin="round" />
<polygon points="128.20,251.21 125.70,246.86 130.70,246.86" fill="#fff" stroke="#1a1a1a" stroke-width="0.9" stroke-linejoin="miter"/>
<polygon points="134.40,250.01 131.90,245.66 136.90,245.66" fill="#fff" stroke="#1a1a1a" stroke-width="0.9" stroke-linejoin="miter"/>
<polygon points="140.30,258.81 137.80,254.46 142.80,254.46" fill="#fff" stroke="#1a1a1a" stroke-width="0.9" stroke-linejoin="miter"/>
<polygon points="146.30,254.21 143.80,249.86 148.80,249.86" fill="#fff" stroke="#1a1a1a" stroke-width="0.9" stroke-linejoin="miter"/>
<polygon points="152.50,250.81 150.00,246.46 155.00,246.46" fill="#fff" stroke="#1a1a1a" stroke-width="0.9" stroke-linejoin="miter"/>
<polygon points="158.60,257.61 156.10,253.26 161.10,253.26" fill="#fff" stroke="#1a1a1a" stroke-width="0.9" stroke-linejoin="miter"/>
<polygon points="164.30,254.21 161.80,249.86 166.80,249.86" fill="#fff" stroke="#1a1a1a" stroke-width="0.9" stroke-linejoin="miter"/>
<polygon points="170.40,271.51 167.90,267.16 172.90,267.16" fill="#fff" stroke="#1a1a1a" stroke-width="0.9" stroke-linejoin="miter"/>
<polygon points="176.70,278.21 174.20,273.86 179.20,273.86" fill="#fff" stroke="#1a1a1a" stroke-width="0.9" stroke-linejoin="miter"/>
<polygon points="182.60,269.41 180.10,265.06 185.10,265.06" fill="#fff" stroke="#1a1a1a" stroke-width="0.9" stroke-linejoin="miter"/>
<polygon points="188.80,277.91 186.30,273.56 191.30,273.56" fill="#fff" stroke="#1a1a1a" stroke-width="0.9" stroke-linejoin="miter"/>
<polygon points="194.80,277.41 192.30,273.06 197.30,273.06" fill="#fff" stroke="#1a1a1a" stroke-width="0.9" stroke-linejoin="miter"/>
<polygon points="201.20,284.61 198.70,280.26 203.70,280.26" fill="#fff" stroke="#1a1a1a" stroke-width="0.9" stroke-linejoin="miter"/>
<polygon points="207.10,279.61 204.60,275.26 209.60,275.26" fill="#fff" stroke="#1a1a1a" stroke-width="0.9" stroke-linejoin="miter"/>
<polygon points="213.30,290.11 210.80,285.76 215.80,285.76" fill="#fff" stroke="#1a1a1a" stroke-width="0.9" stroke-linejoin="miter"/>
<polygon points="207.10,284.31 204.60,279.96 209.60,279.96" fill="#fff" stroke="#1a1a1a" stroke-width="0.9" stroke-linejoin="miter"/>
<polygon points="201.20,292.71 198.70,288.36 203.70,288.36" fill="#fff" stroke="#1a1a1a" stroke-width="0.9" stroke-linejoin="miter"/>
<polygon points="194.80,287.71 192.30,283.36 197.30,283.36" fill="#fff" stroke="#1a1a1a" stroke-width="0.9" stroke-linejoin="miter"/>
<polygon points="188.80,296.51 186.30,292.16 191.30,292.16" fill="#fff" stroke="#1a1a1a" stroke-width="0.9" stroke-linejoin="miter"/>
<polygon points="182.60,294.41 180.10,290.06 185.10,290.06" fill="#fff" stroke="#1a1a1a" stroke-width="0.9" stroke-linejoin="miter"/>
<polygon points="176.70,301.21 174.20,296.86 179.20,296.86" fill="#fff" stroke="#1a1a1a" stroke-width="0.9" stroke-linejoin="miter"/>
<polygon points="170.40,306.31 167.90,301.96 172.90,301.96" fill="#fff" stroke="#1a1a1a" stroke-width="0.9" stroke-linejoin="miter"/>
<polygon points="164.30,307.61 161.80,303.26 166.80,303.26" fill="#fff" stroke="#1a1a1a" stroke-width="0.9" stroke-linejoin="miter"/>
<polygon points="158.60,308.81 156.10,304.46 161.10,304.46" fill="#fff" stroke="#1a1a1a" stroke-width="0.9" stroke-linejoin="miter"/>
<polygon points="152.50,307.61 150.00,303.26 155.00,303.26" fill="#fff" stroke="#1a1a1a" stroke-width="0.9" stroke-linejoin="miter"/>
<polygon points="146.30,312.71 143.80,308.36 148.80,308.36" fill="#fff" stroke="#1a1a1a" stroke-width="0.9" stroke-linejoin="miter"/>
<polygon points="140.30,311.71 137.80,307.36 142.80,307.36" fill="#fff" stroke="#1a1a1a" stroke-width="0.9" stroke-linejoin="miter"/>
<polygon points="134.40,309.31 131.90,304.96 136.90,304.96" fill="#fff" stroke="#1a1a1a" stroke-width="0.9" stroke-linejoin="miter"/>
<polygon points="128.20,309.61 125.70,305.26 130.70,305.26" fill="#fff" stroke="#1a1a1a" stroke-width="0.9" stroke-linejoin="miter"/>
<polygon points="121.80,308.81 119.30,304.46 124.30,304.46" fill="#fff" stroke="#1a1a1a" stroke-width="0.9" stroke-linejoin="miter"/>
<polyline points="122.10,329.80 128.20,329.80 134.40,328.20 140.30,329.30 146.30,324.80 152.50,328.20 158.60,327.70 164.30,329.30 170.40,331.00 176.70,334.40 182.60,334.40 188.80,330.40 194.80,326.50 201.20,332.00 207.10,324.80 213.30,330.40" fill="none" stroke="#2e3a8f" stroke-width="0.8" stroke-linejoin="round" />
<polyline points="213.30,330.40 207.10,334.90 201.20,337.80 194.80,335.40 188.80,343.40 182.60,342.20 176.70,337.50 170.40,333.70 164.30,335.80 158.60,337.10 152.50,335.80 146.30,334.90 140.30,335.80 134.40,331.50 128.20,332.40 122.10,329.80" fill="none" stroke="#2e3a8f" stroke-width="0.8" stroke-linejoin="round" />
<polygon points="122.10,327.19 119.60,331.54 124.60,331.54" fill="#fff" stroke="#2e3a8f" stroke-width="0.9" stroke-linejoin="miter"/>
<polygon points="128.20,327.19 125.70,331.54 130.70,331.54" fill="#fff" stroke="#2e3a8f" stroke-width="0.9" stroke-linejoin="miter"/>
<polygon points="134.40,325.59 131.90,329.94 136.90,329.94" fill="#fff" stroke="#2e3a8f" stroke-width="0.9" stroke-linejoin="miter"/>
<polygon points="140.30,326.69 137.80,331.04 142.80,331.04" fill="#fff" stroke="#2e3a8f" stroke-width="0.9" stroke-linejoin="miter"/>
<polygon points="146.30,322.19 143.80,326.54 148.80,326.54" fill="#fff" stroke="#2e3a8f" stroke-width="0.9" stroke-linejoin="miter"/>
<polygon points="152.50,325.59 150.00,329.94 155.00,329.94" fill="#fff" stroke="#2e3a8f" stroke-width="0.9" stroke-linejoin="miter"/>
<polygon points="158.60,325.09 156.10,329.44 161.10,329.44" fill="#fff" stroke="#2e3a8f" stroke-width="0.9" stroke-linejoin="miter"/>
<polygon points="164.30,326.69 161.80,331.04 166.80,331.04" fill="#fff" stroke="#2e3a8f" stroke-width="0.9" stroke-linejoin="miter"/>
<polygon points="170.40,328.39 167.90,332.74 172.90,332.74" fill="#fff" stroke="#2e3a8f" stroke-width="0.9" stroke-linejoin="miter"/>
<polygon points="176.70,331.79 174.20,336.14 179.20,336.14" fill="#fff" stroke="#2e3a8f" stroke-width="0.9" stroke-linejoin="miter"/>
<polygon points="182.60,331.79 180.10,336.14 185.10,336.14" fill="#fff" stroke="#2e3a8f" stroke-width="0.9" stroke-linejoin="miter"/>
<polygon points="188.80,327.79 186.30,332.14 191.30,332.14" fill="#fff" stroke="#2e3a8f" stroke-width="0.9" stroke-linejoin="miter"/>
<polygon points="194.80,323.89 192.30,328.24 197.30,328.24" fill="#fff" stroke="#2e3a8f" stroke-width="0.9" stroke-linejoin="miter"/>
<polygon points="201.20,329.39 198.70,333.74 203.70,333.74" fill="#fff" stroke="#2e3a8f" stroke-width="0.9" stroke-linejoin="miter"/>
<polygon points="207.10,322.19 204.60,326.54 209.60,326.54" fill="#fff" stroke="#2e3a8f" stroke-width="0.9" stroke-linejoin="miter"/>
<polygon points="213.30,327.79 210.80,332.14 215.80,332.14" fill="#fff" stroke="#2e3a8f" stroke-width="0.9" stroke-linejoin="miter"/>
<polygon points="207.10,332.29 204.60,336.64 209.60,336.64" fill="#fff" stroke="#2e3a8f" stroke-width="0.9" stroke-linejoin="miter"/>
<polygon points="201.20,335.19 198.70,339.54 203.70,339.54" fill="#fff" stroke="#2e3a8f" stroke-width="0.9" stroke-linejoin="miter"/>
<polygon points="194.80,332.79 192.30,337.14 197.30,337.14" fill="#fff" stroke="#2e3a8f" stroke-width="0.9" stroke-linejoin="miter"/>
<polygon points="188.80,340.79 186.30,345.14 191.30,345.14" fill="#fff" stroke="#2e3a8f" stroke-width="0.9" stroke-linejoin="miter"/>
<polygon points="182.60,339.59 180.10,343.94 185.10,343.94" fill="#fff" stroke="#2e3a8f" stroke-width="0.9" stroke-linejoin="miter"/>
<polygon points="176.70,334.89 174.20,339.24 179.20,339.24" fill="#fff" stroke="#2e3a8f" stroke-width="0.9" stroke-linejoin="miter"/>
<polygon points="170.40,331.09 167.90,335.44 172.90,335.44" fill="#fff" stroke="#2e3a8f" stroke-width="0.9" stroke-linejoin="miter"/>
<polygon points="164.30,333.19 161.80,337.54 166.80,337.54" fill="#fff" stroke="#2e3a8f" stroke-width="0.9" stroke-linejoin="miter"/>
<polygon points="158.60,334.49 156.10,338.84 161.10,338.84" fill="#fff" stroke="#2e3a8f" stroke-width="0.9" stroke-linejoin="miter"/>
<polygon points="152.50,333.19 150.00,337.54 155.00,337.54" fill="#fff" stroke="#2e3a8f" stroke-width="0.9" stroke-linejoin="miter"/>
<polygon points="146.30,332.29 143.80,336.64 148.80,336.64" fill="#fff" stroke="#2e3a8f" stroke-width="0.9" stroke-linejoin="miter"/>
<polygon points="140.30,333.19 137.80,337.54 142.80,337.54" fill="#fff" stroke="#2e3a8f" stroke-width="0.9" stroke-linejoin="miter"/>
<polygon points="134.40,328.89 131.90,333.24 136.90,333.24" fill="#fff" stroke="#2e3a8f" stroke-width="0.9" stroke-linejoin="miter"/>
<polygon points="128.20,329.79 125.70,334.14 130.70,334.14" fill="#fff" stroke="#2e3a8f" stroke-width="0.9" stroke-linejoin="miter"/>
<line x1="142.9" y1="240.5" x2="167.76" y2="240.5" stroke="#1a1a1a" stroke-width="1.0"/>
<path d="M171.6,240.5 L165.2,237.7 L167.44,240.5 L165.2,243.3 Z" fill="#1a1a1a"/>
<line x1="167.4" y1="296.7" x2="142.54" y2="296.7" stroke="#1a1a1a" stroke-width="1.0"/>
<path d="M138.7,296.7 L145.1,293.9 L142.85999999999999,296.7 L145.1,299.5 Z" fill="#1a1a1a"/>
<line x1="75.9" y1="286.8" x2="100.46" y2="286.8" stroke="#e8262a" stroke-width="1.0"/>
<path d="M104.3,286.8 L97.89999999999999,284.0 L100.14,286.8 L97.89999999999999,289.6 Z" fill="#e8262a"/>
<line x1="98.1" y1="343.4" x2="72.64" y2="343.4" stroke="#e8262a" stroke-width="1.0"/>
<path d="M68.8,343.4 L75.2,340.59999999999997 L72.96,343.4 L75.2,346.2 Z" fill="#e8262a"/>
<rect x="20" y="197.6" width="204.4" height="189.20000000000002" fill="none" stroke="#1a1a1a" stroke-width="1.1"/>
<line x1="31.08" y1="386.8" x2="31.08" y2="383.8" stroke="#1a1a1a" stroke-width="1"/>
<line x1="76.74" y1="386.8" x2="76.74" y2="383.8" stroke="#1a1a1a" stroke-width="1"/>
<line x1="122.40" y1="386.8" x2="122.40" y2="383.8" stroke="#1a1a1a" stroke-width="1"/>
<line x1="168.06" y1="386.8" x2="168.06" y2="383.8" stroke="#1a1a1a" stroke-width="1"/>
<line x1="213.72" y1="386.8" x2="213.72" y2="383.8" stroke="#1a1a1a" stroke-width="1"/>
<text x="30.48" y="398.4" font-size="9.8" text-anchor="middle" fill="#1a1a1a" font-weight="normal" font-style="normal" >-40</text>
<text x="76.14" y="398.4" font-size="9.8" text-anchor="middle" fill="#1a1a1a" font-weight="normal" font-style="normal" >-20</text>
<text x="122.40" y="398.4" font-size="9.8" text-anchor="middle" fill="#1a1a1a" font-weight="normal" font-style="normal" >0</text>
<text x="168.06" y="398.4" font-size="9.8" text-anchor="middle" fill="#1a1a1a" font-weight="normal" font-style="normal" >20</text>
<text x="213.72" y="398.4" font-size="9.8" text-anchor="middle" fill="#1a1a1a" font-weight="normal" font-style="normal" >40</text>
<text x="107.6" y="411.6" font-size="10.3" fill="#1a1a1a"><tspan font-style="italic">I</tspan> (mA)</text>
<text transform="translate(8.0,298.4) rotate(-90)" font-size="10" font-style="italic" fill="#1a1a1a">R<tspan font-size="6.8" dy="3.3">xy</tspan></text>
<line x1="30.7" y1="348.4" x2="30.7" y2="370.0" stroke="#555" stroke-width="0.9"/>
<line x1="28.3" y1="348.4" x2="33.1" y2="348.4" stroke="#555" stroke-width="0.9"/>
<line x1="28.3" y1="370.0" x2="33.1" y2="370.0" stroke="#555" stroke-width="0.9"/>
<text transform="translate(36.0,342.7) rotate(90)" font-size="10.2" letter-spacing="-0.35" fill="#1a1a1a">0.25 mΩ</text>
<text x="181.6" y="362.0" font-size="10.5" font-style="italic" fill="#1a1a1a">I // b</text>
<text x="179.4" y="376.8" font-size="10.5" text-anchor="start" fill="#1a1a1a" font-weight="normal" font-style="normal" >120 K</text>
<polyline points="272.50,238.10 279.80,235.50 287.30,235.20 295.00,233.10 302.40,234.90 309.70,236.40 317.30,238.10 324.80,237.50 332.30,238.10 339.60,236.20 347.10,237.10 354.60,239.50 361.80,239.20 369.40,238.10 376.90,237.50 384.40,240.80 391.80,241.40 399.30,241.80 406.80,240.10 414.10,238.80 421.60,244.10 429.10,236.80" fill="none" stroke="#505050" stroke-width="0.85" stroke-linejoin="round" />
<polyline points="287.30,235.20 295.00,237.50 302.40,241.70 309.70,241.40 317.30,243.40 324.80,242.10 332.30,240.50 339.60,240.10 347.10,240.10 354.60,239.50 361.80,239.20 369.40,238.10 376.90,238.80 384.40,240.80 391.80,241.40 399.30,241.80 406.80,243.40 414.10,244.70 421.60,248.40 429.10,247.30" fill="none" stroke="#505050" stroke-width="0.85" stroke-linejoin="round" />
<rect x="271.15" y="236.75" width="2.7" height="2.7" fill="#fff" stroke="#505050" stroke-width="0.85"/>
<rect x="278.45" y="234.15" width="2.7" height="2.7" fill="#fff" stroke="#505050" stroke-width="0.85"/>
<rect x="285.95" y="233.85" width="2.7" height="2.7" fill="#fff" stroke="#505050" stroke-width="0.85"/>
<rect x="293.65" y="231.75" width="2.7" height="2.7" fill="#fff" stroke="#505050" stroke-width="0.85"/>
<rect x="301.05" y="233.55" width="2.7" height="2.7" fill="#fff" stroke="#505050" stroke-width="0.85"/>
<rect x="308.35" y="235.05" width="2.7" height="2.7" fill="#fff" stroke="#505050" stroke-width="0.85"/>
<rect x="315.95" y="236.75" width="2.7" height="2.7" fill="#fff" stroke="#505050" stroke-width="0.85"/>
<rect x="323.45" y="236.15" width="2.7" height="2.7" fill="#fff" stroke="#505050" stroke-width="0.85"/>
<rect x="330.95" y="236.75" width="2.7" height="2.7" fill="#fff" stroke="#505050" stroke-width="0.85"/>
<rect x="338.25" y="234.85" width="2.7" height="2.7" fill="#fff" stroke="#505050" stroke-width="0.85"/>
<rect x="345.75" y="235.75" width="2.7" height="2.7" fill="#fff" stroke="#505050" stroke-width="0.85"/>
<rect x="353.25" y="238.15" width="2.7" height="2.7" fill="#fff" stroke="#505050" stroke-width="0.85"/>
<rect x="360.45" y="237.85" width="2.7" height="2.7" fill="#fff" stroke="#505050" stroke-width="0.85"/>
<rect x="368.05" y="236.75" width="2.7" height="2.7" fill="#fff" stroke="#505050" stroke-width="0.85"/>
<rect x="375.55" y="236.15" width="2.7" height="2.7" fill="#fff" stroke="#505050" stroke-width="0.85"/>
<rect x="383.05" y="239.45" width="2.7" height="2.7" fill="#fff" stroke="#505050" stroke-width="0.85"/>
<rect x="390.45" y="240.05" width="2.7" height="2.7" fill="#fff" stroke="#505050" stroke-width="0.85"/>
<rect x="397.95" y="240.45" width="2.7" height="2.7" fill="#fff" stroke="#505050" stroke-width="0.85"/>
<rect x="405.45" y="238.75" width="2.7" height="2.7" fill="#fff" stroke="#505050" stroke-width="0.85"/>
<rect x="412.75" y="237.45" width="2.7" height="2.7" fill="#fff" stroke="#505050" stroke-width="0.85"/>
<rect x="420.25" y="242.75" width="2.7" height="2.7" fill="#fff" stroke="#505050" stroke-width="0.85"/>
<rect x="427.75" y="235.45" width="2.7" height="2.7" fill="#fff" stroke="#505050" stroke-width="0.85"/>
<rect x="293.65" y="236.15" width="2.7" height="2.7" fill="#fff" stroke="#505050" stroke-width="0.85"/>
<rect x="301.05" y="240.35" width="2.7" height="2.7" fill="#fff" stroke="#505050" stroke-width="0.85"/>
<rect x="308.35" y="240.05" width="2.7" height="2.7" fill="#fff" stroke="#505050" stroke-width="0.85"/>
<rect x="315.95" y="242.05" width="2.7" height="2.7" fill="#fff" stroke="#505050" stroke-width="0.85"/>
<rect x="323.45" y="240.75" width="2.7" height="2.7" fill="#fff" stroke="#505050" stroke-width="0.85"/>
<rect x="330.95" y="239.15" width="2.7" height="2.7" fill="#fff" stroke="#505050" stroke-width="0.85"/>
<rect x="338.25" y="238.75" width="2.7" height="2.7" fill="#fff" stroke="#505050" stroke-width="0.85"/>
<rect x="345.75" y="238.75" width="2.7" height="2.7" fill="#fff" stroke="#505050" stroke-width="0.85"/>
<rect x="353.25" y="238.15" width="2.7" height="2.7" fill="#fff" stroke="#505050" stroke-width="0.85"/>
<rect x="360.45" y="237.85" width="2.7" height="2.7" fill="#fff" stroke="#505050" stroke-width="0.85"/>
<rect x="368.05" y="236.75" width="2.7" height="2.7" fill="#fff" stroke="#505050" stroke-width="0.85"/>
<rect x="375.55" y="237.45" width="2.7" height="2.7" fill="#fff" stroke="#505050" stroke-width="0.85"/>
<rect x="383.05" y="239.45" width="2.7" height="2.7" fill="#fff" stroke="#505050" stroke-width="0.85"/>
<rect x="390.45" y="240.05" width="2.7" height="2.7" fill="#fff" stroke="#505050" stroke-width="0.85"/>
<rect x="397.95" y="240.45" width="2.7" height="2.7" fill="#fff" stroke="#505050" stroke-width="0.85"/>
<rect x="405.45" y="242.05" width="2.7" height="2.7" fill="#fff" stroke="#505050" stroke-width="0.85"/>
<rect x="412.75" y="243.35" width="2.7" height="2.7" fill="#fff" stroke="#505050" stroke-width="0.85"/>
<rect x="420.25" y="247.05" width="2.7" height="2.7" fill="#fff" stroke="#505050" stroke-width="0.85"/>
<rect x="427.75" y="245.95" width="2.7" height="2.7" fill="#fff" stroke="#505050" stroke-width="0.85"/>
<polyline points="272.50,335.40 279.80,337.10 287.30,335.40 295.00,334.40 302.40,332.70 309.70,336.30 317.30,334.10 324.80,332.70 332.30,331.80 339.60,332.70 347.10,330.50 354.60,330.10 361.80,330.10 369.40,330.10 376.90,331.80 384.40,335.40 391.80,334.10 399.30,332.10 406.80,332.10 414.10,334.10 421.60,330.80 429.10,328.80" fill="none" stroke="#505050" stroke-width="0.85" stroke-linejoin="round" />
<polyline points="287.30,335.40 295.00,338.40 302.40,341.00 309.70,339.30 317.30,336.00 324.80,335.80 332.30,336.70 339.60,334.40 347.10,334.40 354.60,334.40 361.80,335.40 369.40,337.30 376.90,336.00 384.40,336.30 391.80,337.10 399.30,335.40 406.80,336.70 414.10,337.60 421.60,336.00 429.10,331.40" fill="none" stroke="#505050" stroke-width="0.85" stroke-linejoin="round" />
<rect x="271.15" y="334.05" width="2.7" height="2.7" fill="#fff" stroke="#505050" stroke-width="0.85"/>
<rect x="278.45" y="335.75" width="2.7" height="2.7" fill="#fff" stroke="#505050" stroke-width="0.85"/>
<rect x="285.95" y="334.05" width="2.7" height="2.7" fill="#fff" stroke="#505050" stroke-width="0.85"/>
<rect x="293.65" y="333.05" width="2.7" height="2.7" fill="#fff" stroke="#505050" stroke-width="0.85"/>
<rect x="301.05" y="331.35" width="2.7" height="2.7" fill="#fff" stroke="#505050" stroke-width="0.85"/>
<rect x="308.35" y="334.95" width="2.7" height="2.7" fill="#fff" stroke="#505050" stroke-width="0.85"/>
<rect x="315.95" y="332.75" width="2.7" height="2.7" fill="#fff" stroke="#505050" stroke-width="0.85"/>
<rect x="323.45" y="331.35" width="2.7" height="2.7" fill="#fff" stroke="#505050" stroke-width="0.85"/>
<rect x="330.95" y="330.45" width="2.7" height="2.7" fill="#fff" stroke="#505050" stroke-width="0.85"/>
<rect x="338.25" y="331.35" width="2.7" height="2.7" fill="#fff" stroke="#505050" stroke-width="0.85"/>
<rect x="345.75" y="329.15" width="2.7" height="2.7" fill="#fff" stroke="#505050" stroke-width="0.85"/>
<rect x="353.25" y="328.75" width="2.7" height="2.7" fill="#fff" stroke="#505050" stroke-width="0.85"/>
<rect x="360.45" y="328.75" width="2.7" height="2.7" fill="#fff" stroke="#505050" stroke-width="0.85"/>
<rect x="368.05" y="328.75" width="2.7" height="2.7" fill="#fff" stroke="#505050" stroke-width="0.85"/>
<rect x="375.55" y="330.45" width="2.7" height="2.7" fill="#fff" stroke="#505050" stroke-width="0.85"/>
<rect x="383.05" y="334.05" width="2.7" height="2.7" fill="#fff" stroke="#505050" stroke-width="0.85"/>
<rect x="390.45" y="332.75" width="2.7" height="2.7" fill="#fff" stroke="#505050" stroke-width="0.85"/>
<rect x="397.95" y="330.75" width="2.7" height="2.7" fill="#fff" stroke="#505050" stroke-width="0.85"/>
<rect x="405.45" y="330.75" width="2.7" height="2.7" fill="#fff" stroke="#505050" stroke-width="0.85"/>
<rect x="412.75" y="332.75" width="2.7" height="2.7" fill="#fff" stroke="#505050" stroke-width="0.85"/>
<rect x="420.25" y="329.45" width="2.7" height="2.7" fill="#fff" stroke="#505050" stroke-width="0.85"/>
<rect x="427.75" y="327.45" width="2.7" height="2.7" fill="#fff" stroke="#505050" stroke-width="0.85"/>
<rect x="293.65" y="337.05" width="2.7" height="2.7" fill="#fff" stroke="#505050" stroke-width="0.85"/>
<rect x="301.05" y="339.65" width="2.7" height="2.7" fill="#fff" stroke="#505050" stroke-width="0.85"/>
<rect x="308.35" y="337.95" width="2.7" height="2.7" fill="#fff" stroke="#505050" stroke-width="0.85"/>
<rect x="315.95" y="334.65" width="2.7" height="2.7" fill="#fff" stroke="#505050" stroke-width="0.85"/>
<rect x="323.45" y="334.45" width="2.7" height="2.7" fill="#fff" stroke="#505050" stroke-width="0.85"/>
<rect x="330.95" y="335.35" width="2.7" height="2.7" fill="#fff" stroke="#505050" stroke-width="0.85"/>
<rect x="338.25" y="333.05" width="2.7" height="2.7" fill="#fff" stroke="#505050" stroke-width="0.85"/>
<rect x="345.75" y="333.05" width="2.7" height="2.7" fill="#fff" stroke="#505050" stroke-width="0.85"/>
<rect x="353.25" y="333.05" width="2.7" height="2.7" fill="#fff" stroke="#505050" stroke-width="0.85"/>
<rect x="360.45" y="334.05" width="2.7" height="2.7" fill="#fff" stroke="#505050" stroke-width="0.85"/>
<rect x="368.05" y="335.95" width="2.7" height="2.7" fill="#fff" stroke="#505050" stroke-width="0.85"/>
<rect x="375.55" y="334.65" width="2.7" height="2.7" fill="#fff" stroke="#505050" stroke-width="0.85"/>
<rect x="383.05" y="334.95" width="2.7" height="2.7" fill="#fff" stroke="#505050" stroke-width="0.85"/>
<rect x="390.45" y="335.75" width="2.7" height="2.7" fill="#fff" stroke="#505050" stroke-width="0.85"/>
<rect x="397.95" y="334.05" width="2.7" height="2.7" fill="#fff" stroke="#505050" stroke-width="0.85"/>
<rect x="405.45" y="335.35" width="2.7" height="2.7" fill="#fff" stroke="#505050" stroke-width="0.85"/>
<rect x="412.75" y="336.25" width="2.7" height="2.7" fill="#fff" stroke="#505050" stroke-width="0.85"/>
<rect x="420.25" y="334.65" width="2.7" height="2.7" fill="#fff" stroke="#505050" stroke-width="0.85"/>
<rect x="427.75" y="330.05" width="2.7" height="2.7" fill="#fff" stroke="#505050" stroke-width="0.85"/>
<rect x="258" y="197.6" width="186" height="189.2" fill="none" stroke="#1a1a1a" stroke-width="1.1"/>
<line x1="258" y1="293.1" x2="444" y2="293.1" stroke="#1a1a1a" stroke-width="1.1"/>
<line x1="272.60" y1="386.8" x2="272.60" y2="383.8" stroke="#1a1a1a" stroke-width="1"/>
<line x1="311.60" y1="386.8" x2="311.60" y2="383.8" stroke="#1a1a1a" stroke-width="1"/>
<line x1="350.60" y1="386.8" x2="350.60" y2="383.8" stroke="#1a1a1a" stroke-width="1"/>
<line x1="389.60" y1="386.8" x2="389.60" y2="383.8" stroke="#1a1a1a" stroke-width="1"/>
<line x1="428.60" y1="386.8" x2="428.60" y2="383.8" stroke="#1a1a1a" stroke-width="1"/>
<text x="271.70" y="398.4" font-size="9.8" text-anchor="middle" fill="#1a1a1a" font-weight="normal" font-style="normal" >-40</text>
<text x="310.70" y="398.4" font-size="9.8" text-anchor="middle" fill="#1a1a1a" font-weight="normal" font-style="normal" >-20</text>
<text x="350.60" y="398.4" font-size="9.8" text-anchor="middle" fill="#1a1a1a" font-weight="normal" font-style="normal" >0</text>
<text x="389.60" y="398.4" font-size="9.8" text-anchor="middle" fill="#1a1a1a" font-weight="normal" font-style="normal" >20</text>
<text x="428.60" y="398.4" font-size="9.8" text-anchor="middle" fill="#1a1a1a" font-weight="normal" font-style="normal" >40</text>
<text x="336.2" y="411.3" font-size="10.3" fill="#1a1a1a"><tspan font-style="italic">I</tspan> (mA)</text>
<text transform="translate(244.8,253.6) rotate(-90)" font-size="10" font-style="italic" fill="#1a1a1a">R<tspan font-size="6.8" dy="3.3">xy</tspan></text>
<text transform="translate(244.5,345.2) rotate(-90)" font-size="10" font-style="italic" fill="#1a1a1a">R<tspan font-size="6.8" dy="3.3">xy</tspan></text>
<line x1="270.5" y1="258.1" x2="270.5" y2="279.7" stroke="#505050" stroke-width="0.9"/>
<line x1="268.1" y1="258.1" x2="272.9" y2="258.1" stroke="#505050" stroke-width="0.9"/>
<line x1="268.1" y1="279.7" x2="272.9" y2="279.7" stroke="#505050" stroke-width="0.9"/>
<text transform="translate(276.6,254.8) rotate(90)" font-size="10.2" letter-spacing="-0.35" fill="#1a1a1a">0.5 mΩ</text>
<line x1="270.4" y1="351.6" x2="270.4" y2="372.7" stroke="#505050" stroke-width="0.9"/>
<line x1="268.0" y1="351.6" x2="272.79999999999995" y2="351.6" stroke="#505050" stroke-width="0.9"/>
<line x1="268.0" y1="372.7" x2="272.79999999999995" y2="372.7" stroke="#505050" stroke-width="0.9"/>
<text transform="translate(276.6,348.0) rotate(90)" font-size="10.2" letter-spacing="-0.35" fill="#1a1a1a">0.5 mΩ</text>
<text x="404.6" y="272.7" font-size="10.5" font-style="italic" fill="#1a1a1a">I // a</text>
<text x="403.5" y="287.7" font-size="10.5" text-anchor="start" fill="#1a1a1a" font-weight="normal" font-style="normal" >120 K</text>
<text x="404.6" y="363.7" font-size="10.5" font-style="italic" fill="#1a1a1a">I // b</text>
<text x="403.5" y="378.6" font-size="10.5" text-anchor="start" fill="#1a1a1a" font-weight="normal" font-style="normal" >150 K</text>
<polyline points="499.20,220.30 508.80,220.60 518.60,218.50 528.30,217.30 537.90,218.50 547.70,221.60 557.70,223.10 567.40,223.70 577.00,224.20 586.90,223.70 596.60,223.70 606.40,223.10 616.30,222.20 626.00,224.20 635.90,223.40 645.60,221.90 655.10,220.00 665.10,220.30" fill="none" stroke="#e8343c" stroke-width="1.0" stroke-linejoin="round" />
<polyline points="499.20,223.10 508.80,224.60 518.60,223.40 528.30,222.90 537.90,222.90 547.70,223.70 557.70,223.10 567.40,223.70 577.00,224.20 586.90,223.70 596.60,223.70 606.40,223.10 616.30,223.70 626.00,224.20 635.90,223.40 645.60,224.20 655.10,223.40 665.10,223.10" fill="none" stroke="#e8343c" stroke-width="1.0" stroke-linejoin="round" />
<circle cx="499.20" cy="220.30" r="1.9" fill="#fff" stroke="#e8343c" stroke-width="1.0"/>
<circle cx="508.80" cy="220.60" r="1.9" fill="#fff" stroke="#e8343c" stroke-width="1.0"/>
<circle cx="518.60" cy="218.50" r="1.9" fill="#fff" stroke="#e8343c" stroke-width="1.0"/>
<circle cx="528.30" cy="217.30" r="1.9" fill="#fff" stroke="#e8343c" stroke-width="1.0"/>
<circle cx="537.90" cy="218.50" r="1.9" fill="#fff" stroke="#e8343c" stroke-width="1.0"/>
<circle cx="547.70" cy="221.60" r="1.9" fill="#fff" stroke="#e8343c" stroke-width="1.0"/>
<circle cx="557.70" cy="223.10" r="1.9" fill="#fff" stroke="#e8343c" stroke-width="1.0"/>
<circle cx="567.40" cy="223.70" r="1.9" fill="#fff" stroke="#e8343c" stroke-width="1.0"/>
<circle cx="577.00" cy="224.20" r="1.9" fill="#fff" stroke="#e8343c" stroke-width="1.0"/>
<circle cx="586.90" cy="223.70" r="1.9" fill="#fff" stroke="#e8343c" stroke-width="1.0"/>
<circle cx="596.60" cy="223.70" r="1.9" fill="#fff" stroke="#e8343c" stroke-width="1.0"/>
<circle cx="606.40" cy="223.10" r="1.9" fill="#fff" stroke="#e8343c" stroke-width="1.0"/>
<circle cx="616.30" cy="222.20" r="1.9" fill="#fff" stroke="#e8343c" stroke-width="1.0"/>
<circle cx="626.00" cy="224.20" r="1.9" fill="#fff" stroke="#e8343c" stroke-width="1.0"/>
<circle cx="635.90" cy="223.40" r="1.9" fill="#fff" stroke="#e8343c" stroke-width="1.0"/>
<circle cx="645.60" cy="221.90" r="1.9" fill="#fff" stroke="#e8343c" stroke-width="1.0"/>
<circle cx="655.10" cy="220.00" r="1.9" fill="#fff" stroke="#e8343c" stroke-width="1.0"/>
<circle cx="665.10" cy="220.30" r="1.9" fill="#fff" stroke="#e8343c" stroke-width="1.0"/>
<circle cx="499.20" cy="223.10" r="1.9" fill="#fff" stroke="#e8343c" stroke-width="1.0"/>
<circle cx="508.80" cy="224.60" r="1.9" fill="#fff" stroke="#e8343c" stroke-width="1.0"/>
<circle cx="518.60" cy="223.40" r="1.9" fill="#fff" stroke="#e8343c" stroke-width="1.0"/>
<circle cx="528.30" cy="222.90" r="1.9" fill="#fff" stroke="#e8343c" stroke-width="1.0"/>
<circle cx="537.90" cy="222.90" r="1.9" fill="#fff" stroke="#e8343c" stroke-width="1.0"/>
<circle cx="547.70" cy="223.70" r="1.9" fill="#fff" stroke="#e8343c" stroke-width="1.0"/>
<circle cx="557.70" cy="223.10" r="1.9" fill="#fff" stroke="#e8343c" stroke-width="1.0"/>
<circle cx="567.40" cy="223.70" r="1.9" fill="#fff" stroke="#e8343c" stroke-width="1.0"/>
<circle cx="577.00" cy="224.20" r="1.9" fill="#fff" stroke="#e8343c" stroke-width="1.0"/>
<circle cx="586.90" cy="223.70" r="1.9" fill="#fff" stroke="#e8343c" stroke-width="1.0"/>
<circle cx="596.60" cy="223.70" r="1.9" fill="#fff" stroke="#e8343c" stroke-width="1.0"/>
<circle cx="606.40" cy="223.10" r="1.9" fill="#fff" stroke="#e8343c" stroke-width="1.0"/>
<circle cx="616.30" cy="223.70" r="1.9" fill="#fff" stroke="#e8343c" stroke-width="1.0"/>
<circle cx="626.00" cy="224.20" r="1.9" fill="#fff" stroke="#e8343c" stroke-width="1.0"/>
<circle cx="635.90" cy="223.40" r="1.9" fill="#fff" stroke="#e8343c" stroke-width="1.0"/>
<circle cx="645.60" cy="224.20" r="1.9" fill="#fff" stroke="#e8343c" stroke-width="1.0"/>
<circle cx="655.10" cy="223.40" r="1.9" fill="#fff" stroke="#e8343c" stroke-width="1.0"/>
<circle cx="665.10" cy="223.10" r="1.9" fill="#fff" stroke="#e8343c" stroke-width="1.0"/>
<polyline points="499.20,248.90 508.80,248.00 518.60,246.90 528.30,243.80 537.90,243.80 547.70,243.80 557.70,244.30 567.40,244.90 577.00,244.90 586.90,244.90 596.60,244.90 606.40,244.90 616.30,244.60 626.00,244.60 635.90,246.90 645.60,250.40 655.10,253.50 665.10,254.60" fill="none" stroke="#e0259a" stroke-width="1.0" stroke-linejoin="round" />
<polyline points="499.20,248.90 508.80,248.00 518.60,249.20 528.30,252.30 537.90,255.30 547.70,256.10 557.70,255.80 567.40,255.60 577.00,255.00 586.90,255.30 596.60,255.60 606.40,255.30 616.30,255.30 626.00,256.60 635.90,256.10 645.60,256.90 655.10,253.80 665.10,255.30" fill="none" stroke="#e0259a" stroke-width="1.0" stroke-linejoin="round" />
<circle cx="499.20" cy="248.90" r="1.9" fill="#fff" stroke="#e0259a" stroke-width="1.0"/>
<circle cx="508.80" cy="248.00" r="1.9" fill="#fff" stroke="#e0259a" stroke-width="1.0"/>
<circle cx="518.60" cy="246.90" r="1.9" fill="#fff" stroke="#e0259a" stroke-width="1.0"/>
<circle cx="528.30" cy="243.80" r="1.9" fill="#fff" stroke="#e0259a" stroke-width="1.0"/>
<circle cx="537.90" cy="243.80" r="1.9" fill="#fff" stroke="#e0259a" stroke-width="1.0"/>
<circle cx="547.70" cy="243.80" r="1.9" fill="#fff" stroke="#e0259a" stroke-width="1.0"/>
<circle cx="557.70" cy="244.30" r="1.9" fill="#fff" stroke="#e0259a" stroke-width="1.0"/>
<circle cx="567.40" cy="244.90" r="1.9" fill="#fff" stroke="#e0259a" stroke-width="1.0"/>
<circle cx="577.00" cy="244.90" r="1.9" fill="#fff" stroke="#e0259a" stroke-width="1.0"/>
<circle cx="586.90" cy="244.90" r="1.9" fill="#fff" stroke="#e0259a" stroke-width="1.0"/>
<circle cx="596.60" cy="244.90" r="1.9" fill="#fff" stroke="#e0259a" stroke-width="1.0"/>
<circle cx="606.40" cy="244.90" r="1.9" fill="#fff" stroke="#e0259a" stroke-width="1.0"/>
<circle cx="616.30" cy="244.60" r="1.9" fill="#fff" stroke="#e0259a" stroke-width="1.0"/>
<circle cx="626.00" cy="244.60" r="1.9" fill="#fff" stroke="#e0259a" stroke-width="1.0"/>
<circle cx="635.90" cy="246.90" r="1.9" fill="#fff" stroke="#e0259a" stroke-width="1.0"/>
<circle cx="645.60" cy="250.40" r="1.9" fill="#fff" stroke="#e0259a" stroke-width="1.0"/>
<circle cx="655.10" cy="253.50" r="1.9" fill="#fff" stroke="#e0259a" stroke-width="1.0"/>
<circle cx="665.10" cy="254.60" r="1.9" fill="#fff" stroke="#e0259a" stroke-width="1.0"/>
<circle cx="499.20" cy="248.90" r="1.9" fill="#fff" stroke="#e0259a" stroke-width="1.0"/>
<circle cx="508.80" cy="248.00" r="1.9" fill="#fff" stroke="#e0259a" stroke-width="1.0"/>
<circle cx="518.60" cy="249.20" r="1.9" fill="#fff" stroke="#e0259a" stroke-width="1.0"/>
<circle cx="528.30" cy="252.30" r="1.9" fill="#fff" stroke="#e0259a" stroke-width="1.0"/>
<circle cx="537.90" cy="255.30" r="1.9" fill="#fff" stroke="#e0259a" stroke-width="1.0"/>
<circle cx="547.70" cy="256.10" r="1.9" fill="#fff" stroke="#e0259a" stroke-width="1.0"/>
<circle cx="557.70" cy="255.80" r="1.9" fill="#fff" stroke="#e0259a" stroke-width="1.0"/>
<circle cx="567.40" cy="255.60" r="1.9" fill="#fff" stroke="#e0259a" stroke-width="1.0"/>
<circle cx="577.00" cy="255.00" r="1.9" fill="#fff" stroke="#e0259a" stroke-width="1.0"/>
<circle cx="586.90" cy="255.30" r="1.9" fill="#fff" stroke="#e0259a" stroke-width="1.0"/>
<circle cx="596.60" cy="255.60" r="1.9" fill="#fff" stroke="#e0259a" stroke-width="1.0"/>
<circle cx="606.40" cy="255.30" r="1.9" fill="#fff" stroke="#e0259a" stroke-width="1.0"/>
<circle cx="616.30" cy="255.30" r="1.9" fill="#fff" stroke="#e0259a" stroke-width="1.0"/>
<circle cx="626.00" cy="256.60" r="1.9" fill="#fff" stroke="#e0259a" stroke-width="1.0"/>
<circle cx="635.90" cy="256.10" r="1.9" fill="#fff" stroke="#e0259a" stroke-width="1.0"/>
<circle cx="645.60" cy="256.90" r="1.9" fill="#fff" stroke="#e0259a" stroke-width="1.0"/>
<circle cx="655.10" cy="253.80" r="1.9" fill="#fff" stroke="#e0259a" stroke-width="1.0"/>
<circle cx="665.10" cy="255.30" r="1.9" fill="#fff" stroke="#e0259a" stroke-width="1.0"/>
<polyline points="499.20,277.60 508.80,276.00 518.60,277.10 528.30,277.10 537.90,276.00 547.70,275.70 557.70,275.70 567.40,275.30 577.00,276.50 586.90,276.50 596.60,276.50 606.40,276.50 616.30,276.00 626.00,276.00 635.90,277.60 645.60,280.20 655.10,282.60 665.10,284.80" fill="none" stroke="#1fb0ea" stroke-width="1.0" stroke-linejoin="round" />
<polyline points="499.20,277.60 508.80,281.10 518.60,279.90 528.30,282.20 537.90,284.80 547.70,284.90 557.70,285.50 567.40,285.50 577.00,285.70 586.90,285.50 596.60,285.50 606.40,285.70 616.30,285.70 626.00,285.20 635.90,284.90 645.60,284.50 655.10,283.70 665.10,284.80" fill="none" stroke="#1fb0ea" stroke-width="1.0" stroke-linejoin="round" />
<circle cx="499.20" cy="277.60" r="1.9" fill="#fff" stroke="#1fb0ea" stroke-width="1.0"/>
<circle cx="508.80" cy="276.00" r="1.9" fill="#fff" stroke="#1fb0ea" stroke-width="1.0"/>
<circle cx="518.60" cy="277.10" r="1.9" fill="#fff" stroke="#1fb0ea" stroke-width="1.0"/>
<circle cx="528.30" cy="277.10" r="1.9" fill="#fff" stroke="#1fb0ea" stroke-width="1.0"/>
<circle cx="537.90" cy="276.00" r="1.9" fill="#fff" stroke="#1fb0ea" stroke-width="1.0"/>
<circle cx="547.70" cy="275.70" r="1.9" fill="#fff" stroke="#1fb0ea" stroke-width="1.0"/>
<circle cx="557.70" cy="275.70" r="1.9" fill="#fff" stroke="#1fb0ea" stroke-width="1.0"/>
<circle cx="567.40" cy="275.30" r="1.9" fill="#fff" stroke="#1fb0ea" stroke-width="1.0"/>
<circle cx="577.00" cy="276.50" r="1.9" fill="#fff" stroke="#1fb0ea" stroke-width="1.0"/>
<circle cx="586.90" cy="276.50" r="1.9" fill="#fff" stroke="#1fb0ea" stroke-width="1.0"/>
<circle cx="596.60" cy="276.50" r="1.9" fill="#fff" stroke="#1fb0ea" stroke-width="1.0"/>
<circle cx="606.40" cy="276.50" r="1.9" fill="#fff" stroke="#1fb0ea" stroke-width="1.0"/>
<circle cx="616.30" cy="276.00" r="1.9" fill="#fff" stroke="#1fb0ea" stroke-width="1.0"/>
<circle cx="626.00" cy="276.00" r="1.9" fill="#fff" stroke="#1fb0ea" stroke-width="1.0"/>
<circle cx="635.90" cy="277.60" r="1.9" fill="#fff" stroke="#1fb0ea" stroke-width="1.0"/>
<circle cx="645.60" cy="280.20" r="1.9" fill="#fff" stroke="#1fb0ea" stroke-width="1.0"/>
<circle cx="655.10" cy="282.60" r="1.9" fill="#fff" stroke="#1fb0ea" stroke-width="1.0"/>
<circle cx="665.10" cy="284.80" r="1.9" fill="#fff" stroke="#1fb0ea" stroke-width="1.0"/>
<circle cx="499.20" cy="277.60" r="1.9" fill="#fff" stroke="#1fb0ea" stroke-width="1.0"/>
<circle cx="508.80" cy="281.10" r="1.9" fill="#fff" stroke="#1fb0ea" stroke-width="1.0"/>
<circle cx="518.60" cy="279.90" r="1.9" fill="#fff" stroke="#1fb0ea" stroke-width="1.0"/>
<circle cx="528.30" cy="282.20" r="1.9" fill="#fff" stroke="#1fb0ea" stroke-width="1.0"/>
<circle cx="537.90" cy="284.80" r="1.9" fill="#fff" stroke="#1fb0ea" stroke-width="1.0"/>
<circle cx="547.70" cy="284.90" r="1.9" fill="#fff" stroke="#1fb0ea" stroke-width="1.0"/>
<circle cx="557.70" cy="285.50" r="1.9" fill="#fff" stroke="#1fb0ea" stroke-width="1.0"/>
<circle cx="567.40" cy="285.50" r="1.9" fill="#fff" stroke="#1fb0ea" stroke-width="1.0"/>
<circle cx="577.00" cy="285.70" r="1.9" fill="#fff" stroke="#1fb0ea" stroke-width="1.0"/>
<circle cx="586.90" cy="285.50" r="1.9" fill="#fff" stroke="#1fb0ea" stroke-width="1.0"/>
<circle cx="596.60" cy="285.50" r="1.9" fill="#fff" stroke="#1fb0ea" stroke-width="1.0"/>
<circle cx="606.40" cy="285.70" r="1.9" fill="#fff" stroke="#1fb0ea" stroke-width="1.0"/>
<circle cx="616.30" cy="285.70" r="1.9" fill="#fff" stroke="#1fb0ea" stroke-width="1.0"/>
<circle cx="626.00" cy="285.20" r="1.9" fill="#fff" stroke="#1fb0ea" stroke-width="1.0"/>
<circle cx="635.90" cy="284.90" r="1.9" fill="#fff" stroke="#1fb0ea" stroke-width="1.0"/>
<circle cx="645.60" cy="284.50" r="1.9" fill="#fff" stroke="#1fb0ea" stroke-width="1.0"/>
<circle cx="655.10" cy="283.70" r="1.9" fill="#fff" stroke="#1fb0ea" stroke-width="1.0"/>
<circle cx="665.10" cy="284.80" r="1.9" fill="#fff" stroke="#1fb0ea" stroke-width="1.0"/>
<polyline points="499.20,305.60 508.80,306.10 518.60,307.60 528.30,307.60 537.90,307.60 547.70,308.10 557.70,308.70 567.40,309.20 577.00,309.20 586.90,309.60 596.60,309.20 606.40,310.20 616.30,309.90 626.00,309.60 635.90,310.20 645.60,309.90 655.10,312.70 665.10,312.70" fill="none" stroke="#2f80c4" stroke-width="1.0" stroke-linejoin="round" />
<polyline points="499.20,308.10 508.80,308.70 518.60,310.20 528.30,313.00 537.90,316.10 547.70,315.80 557.70,316.40 567.40,316.80 577.00,316.10 586.90,316.50 596.60,316.50 606.40,316.40 616.30,316.80 626.00,316.40 635.90,316.10 645.60,313.00 655.10,314.20 665.10,313.80" fill="none" stroke="#2f80c4" stroke-width="1.0" stroke-linejoin="round" />
<circle cx="499.20" cy="305.60" r="1.9" fill="#fff" stroke="#2f80c4" stroke-width="1.0"/>
<circle cx="508.80" cy="306.10" r="1.9" fill="#fff" stroke="#2f80c4" stroke-width="1.0"/>
<circle cx="518.60" cy="307.60" r="1.9" fill="#fff" stroke="#2f80c4" stroke-width="1.0"/>
<circle cx="528.30" cy="307.60" r="1.9" fill="#fff" stroke="#2f80c4" stroke-width="1.0"/>
<circle cx="537.90" cy="307.60" r="1.9" fill="#fff" stroke="#2f80c4" stroke-width="1.0"/>
<circle cx="547.70" cy="308.10" r="1.9" fill="#fff" stroke="#2f80c4" stroke-width="1.0"/>
<circle cx="557.70" cy="308.70" r="1.9" fill="#fff" stroke="#2f80c4" stroke-width="1.0"/>
<circle cx="567.40" cy="309.20" r="1.9" fill="#fff" stroke="#2f80c4" stroke-width="1.0"/>
<circle cx="577.00" cy="309.20" r="1.9" fill="#fff" stroke="#2f80c4" stroke-width="1.0"/>
<circle cx="586.90" cy="309.60" r="1.9" fill="#fff" stroke="#2f80c4" stroke-width="1.0"/>
<circle cx="596.60" cy="309.20" r="1.9" fill="#fff" stroke="#2f80c4" stroke-width="1.0"/>
<circle cx="606.40" cy="310.20" r="1.9" fill="#fff" stroke="#2f80c4" stroke-width="1.0"/>
<circle cx="616.30" cy="309.90" r="1.9" fill="#fff" stroke="#2f80c4" stroke-width="1.0"/>
<circle cx="626.00" cy="309.60" r="1.9" fill="#fff" stroke="#2f80c4" stroke-width="1.0"/>
<circle cx="635.90" cy="310.20" r="1.9" fill="#fff" stroke="#2f80c4" stroke-width="1.0"/>
<circle cx="645.60" cy="309.90" r="1.9" fill="#fff" stroke="#2f80c4" stroke-width="1.0"/>
<circle cx="655.10" cy="312.70" r="1.9" fill="#fff" stroke="#2f80c4" stroke-width="1.0"/>
<circle cx="665.10" cy="312.70" r="1.9" fill="#fff" stroke="#2f80c4" stroke-width="1.0"/>
<circle cx="499.20" cy="308.10" r="1.9" fill="#fff" stroke="#2f80c4" stroke-width="1.0"/>
<circle cx="508.80" cy="308.70" r="1.9" fill="#fff" stroke="#2f80c4" stroke-width="1.0"/>
<circle cx="518.60" cy="310.20" r="1.9" fill="#fff" stroke="#2f80c4" stroke-width="1.0"/>
<circle cx="528.30" cy="313.00" r="1.9" fill="#fff" stroke="#2f80c4" stroke-width="1.0"/>
<circle cx="537.90" cy="316.10" r="1.9" fill="#fff" stroke="#2f80c4" stroke-width="1.0"/>
<circle cx="547.70" cy="315.80" r="1.9" fill="#fff" stroke="#2f80c4" stroke-width="1.0"/>
<circle cx="557.70" cy="316.40" r="1.9" fill="#fff" stroke="#2f80c4" stroke-width="1.0"/>
<circle cx="567.40" cy="316.80" r="1.9" fill="#fff" stroke="#2f80c4" stroke-width="1.0"/>
<circle cx="577.00" cy="316.10" r="1.9" fill="#fff" stroke="#2f80c4" stroke-width="1.0"/>
<circle cx="586.90" cy="316.50" r="1.9" fill="#fff" stroke="#2f80c4" stroke-width="1.0"/>
<circle cx="596.60" cy="316.50" r="1.9" fill="#fff" stroke="#2f80c4" stroke-width="1.0"/>
<circle cx="606.40" cy="316.40" r="1.9" fill="#fff" stroke="#2f80c4" stroke-width="1.0"/>
<circle cx="616.30" cy="316.80" r="1.9" fill="#fff" stroke="#2f80c4" stroke-width="1.0"/>
<circle cx="626.00" cy="316.40" r="1.9" fill="#fff" stroke="#2f80c4" stroke-width="1.0"/>
<circle cx="635.90" cy="316.10" r="1.9" fill="#fff" stroke="#2f80c4" stroke-width="1.0"/>
<circle cx="645.60" cy="313.00" r="1.9" fill="#fff" stroke="#2f80c4" stroke-width="1.0"/>
<circle cx="655.10" cy="314.20" r="1.9" fill="#fff" stroke="#2f80c4" stroke-width="1.0"/>
<circle cx="665.10" cy="313.80" r="1.9" fill="#fff" stroke="#2f80c4" stroke-width="1.0"/>
<polyline points="499.20,338.50 508.80,339.00 518.60,341.00 528.30,339.00 537.90,338.50 547.70,341.00 557.70,340.50 567.40,338.80 577.00,340.20 586.90,342.40 596.60,343.40 606.40,343.90 616.30,343.90 626.00,341.00 635.90,341.00 645.60,341.00 655.10,339.90 665.10,341.00" fill="none" stroke="#363f92" stroke-width="1.0" stroke-linejoin="round" />
<polyline points="499.20,340.50 508.80,342.80 518.60,343.90 528.30,343.10 537.90,343.40 547.70,343.90 557.70,344.60 567.40,341.70 577.00,344.20 586.90,343.90 596.60,343.40 606.40,343.90 616.30,343.90 626.00,343.40 635.90,343.40 645.60,343.90 655.10,341.70 665.10,343.40" fill="none" stroke="#363f92" stroke-width="1.0" stroke-linejoin="round" />
<circle cx="499.20" cy="338.50" r="1.9" fill="#fff" stroke="#363f92" stroke-width="1.0"/>
<circle cx="508.80" cy="339.00" r="1.9" fill="#fff" stroke="#363f92" stroke-width="1.0"/>
<circle cx="518.60" cy="341.00" r="1.9" fill="#fff" stroke="#363f92" stroke-width="1.0"/>
<circle cx="528.30" cy="339.00" r="1.9" fill="#fff" stroke="#363f92" stroke-width="1.0"/>
<circle cx="537.90" cy="338.50" r="1.9" fill="#fff" stroke="#363f92" stroke-width="1.0"/>
<circle cx="547.70" cy="341.00" r="1.9" fill="#fff" stroke="#363f92" stroke-width="1.0"/>
<circle cx="557.70" cy="340.50" r="1.9" fill="#fff" stroke="#363f92" stroke-width="1.0"/>
<circle cx="567.40" cy="338.80" r="1.9" fill="#fff" stroke="#363f92" stroke-width="1.0"/>
<circle cx="577.00" cy="340.20" r="1.9" fill="#fff" stroke="#363f92" stroke-width="1.0"/>
<circle cx="586.90" cy="342.40" r="1.9" fill="#fff" stroke="#363f92" stroke-width="1.0"/>
<circle cx="596.60" cy="343.40" r="1.9" fill="#fff" stroke="#363f92" stroke-width="1.0"/>
<circle cx="606.40" cy="343.90" r="1.9" fill="#fff" stroke="#363f92" stroke-width="1.0"/>
<circle cx="616.30" cy="343.90" r="1.9" fill="#fff" stroke="#363f92" stroke-width="1.0"/>
<circle cx="626.00" cy="341.00" r="1.9" fill="#fff" stroke="#363f92" stroke-width="1.0"/>
<circle cx="635.90" cy="341.00" r="1.9" fill="#fff" stroke="#363f92" stroke-width="1.0"/>
<circle cx="645.60" cy="341.00" r="1.9" fill="#fff" stroke="#363f92" stroke-width="1.0"/>
<circle cx="655.10" cy="339.90" r="1.9" fill="#fff" stroke="#363f92" stroke-width="1.0"/>
<circle cx="665.10" cy="341.00" r="1.9" fill="#fff" stroke="#363f92" stroke-width="1.0"/>
<circle cx="499.20" cy="340.50" r="1.9" fill="#fff" stroke="#363f92" stroke-width="1.0"/>
<circle cx="508.80" cy="342.80" r="1.9" fill="#fff" stroke="#363f92" stroke-width="1.0"/>
<circle cx="518.60" cy="343.90" r="1.9" fill="#fff" stroke="#363f92" stroke-width="1.0"/>
<circle cx="528.30" cy="343.10" r="1.9" fill="#fff" stroke="#363f92" stroke-width="1.0"/>
<circle cx="537.90" cy="343.40" r="1.9" fill="#fff" stroke="#363f92" stroke-width="1.0"/>
<circle cx="547.70" cy="343.90" r="1.9" fill="#fff" stroke="#363f92" stroke-width="1.0"/>
<circle cx="557.70" cy="344.60" r="1.9" fill="#fff" stroke="#363f92" stroke-width="1.0"/>
<circle cx="567.40" cy="341.70" r="1.9" fill="#fff" stroke="#363f92" stroke-width="1.0"/>
<circle cx="577.00" cy="344.20" r="1.9" fill="#fff" stroke="#363f92" stroke-width="1.0"/>
<circle cx="586.90" cy="343.90" r="1.9" fill="#fff" stroke="#363f92" stroke-width="1.0"/>
<circle cx="596.60" cy="343.40" r="1.9" fill="#fff" stroke="#363f92" stroke-width="1.0"/>
<circle cx="606.40" cy="343.90" r="1.9" fill="#fff" stroke="#363f92" stroke-width="1.0"/>
<circle cx="616.30" cy="343.90" r="1.9" fill="#fff" stroke="#363f92" stroke-width="1.0"/>
<circle cx="626.00" cy="343.40" r="1.9" fill="#fff" stroke="#363f92" stroke-width="1.0"/>
<circle cx="635.90" cy="343.40" r="1.9" fill="#fff" stroke="#363f92" stroke-width="1.0"/>
<circle cx="645.60" cy="343.90" r="1.9" fill="#fff" stroke="#363f92" stroke-width="1.0"/>
<circle cx="655.10" cy="341.70" r="1.9" fill="#fff" stroke="#363f92" stroke-width="1.0"/>
<circle cx="665.10" cy="343.40" r="1.9" fill="#fff" stroke="#363f92" stroke-width="1.0"/>
<rect x="479.6" y="197.6" width="204.5" height="189.20000000000002" fill="none" stroke="#1a1a1a" stroke-width="1.1"/>
<line x1="490.60" y1="386.8" x2="490.60" y2="383.8" stroke="#1a1a1a" stroke-width="1"/>
<line x1="536.30" y1="386.8" x2="536.30" y2="383.8" stroke="#1a1a1a" stroke-width="1"/>
<line x1="582.00" y1="386.8" x2="582.00" y2="383.8" stroke="#1a1a1a" stroke-width="1"/>
<line x1="627.70" y1="386.8" x2="627.70" y2="383.8" stroke="#1a1a1a" stroke-width="1"/>
<line x1="673.40" y1="386.8" x2="673.40" y2="383.8" stroke="#1a1a1a" stroke-width="1"/>
<text x="490.80" y="398.6" font-size="10" text-anchor="middle" fill="#1a1a1a" font-weight="normal" font-style="normal" >-40</text>
<text x="536.50" y="398.6" font-size="10" text-anchor="middle" fill="#1a1a1a" font-weight="normal" font-style="normal" >-20</text>
<text x="582.00" y="398.6" font-size="10" text-anchor="middle" fill="#1a1a1a" font-weight="normal" font-style="normal" >0</text>
<text x="627.70" y="398.6" font-size="10" text-anchor="middle" fill="#1a1a1a" font-weight="normal" font-style="normal" >20</text>
<text x="673.40" y="398.6" font-size="10" text-anchor="middle" fill="#1a1a1a" font-weight="normal" font-style="normal" >40</text>
<text x="567.8" y="412.0" font-size="10.3" fill="#1a1a1a"><tspan font-style="italic">I</tspan> (mA)</text>
<text transform="translate(466.3,298.0) rotate(-90)" font-size="10" font-style="italic" fill="#1a1a1a">R<tspan font-size="6.8" dy="3.3">xy</tspan></text>
<line x1="500.8" y1="354.7" x2="500.8" y2="377.4" stroke="#333" stroke-width="0.9"/>
<line x1="498.40000000000003" y1="354.7" x2="503.2" y2="354.7" stroke="#333" stroke-width="0.9"/>
<line x1="498.40000000000003" y1="377.4" x2="503.2" y2="377.4" stroke="#333" stroke-width="0.9"/>
<text transform="translate(508.8,355.3) rotate(90)" font-size="10.2" letter-spacing="-0.35" fill="#1a1a1a">1 mΩ</text>
<text x="678.5" y="213.0" font-size="8.5" text-anchor="end" fill="#e8343c" font-weight="normal" font-style="normal" >500 Oe</text>
<text x="678.5" y="244.5" font-size="8.5" text-anchor="end" fill="#e0259a" font-weight="normal" font-style="normal" >100 Oe</text>
<text x="678.5" y="275.3" font-size="8.5" text-anchor="end" fill="#1fb0ea" font-weight="normal" font-style="normal" >0 Oe</text>
<text x="678.5" y="302.3" font-size="8.5" text-anchor="end" fill="#2f80c4" font-weight="normal" font-style="normal" >-100 Oe</text>
<text x="678.5" y="333.2" font-size="8.5" text-anchor="end" fill="#363f92" font-weight="normal" font-style="normal" >-500 Oe</text>
<text x="648.6" y="363.8" font-size="10.5" font-style="italic" fill="#1a1a1a">I // b</text>
<text x="645.5" y="378.4" font-size="10.5" text-anchor="start" fill="#1a1a1a" font-weight="normal" font-style="normal" >120 K</text>
</svg></body></html>
